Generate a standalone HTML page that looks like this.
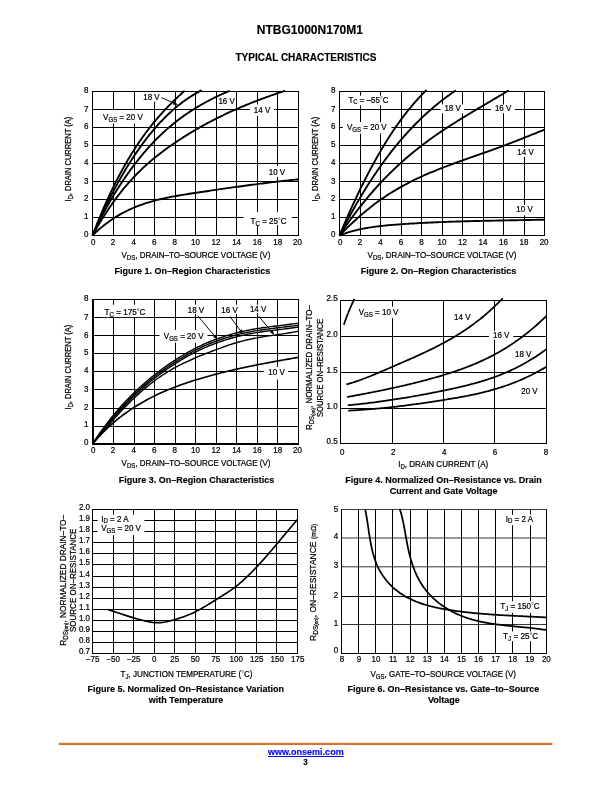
<!DOCTYPE html>
<html lang="en">
<head>
<meta charset="utf-8">
<title>NTBG1000N170M1 - Typical Characteristics</title>
<style>
html,body{margin:0;padding:0;background:#fff;}
body{width:612px;height:792px;overflow:hidden;}
svg{display:block;font-family:'Liberation Sans', sans-serif;}
</style>
</head>
<body>
<svg width="612" height="792" viewBox="0 0 612 792" font-family="'Liberation Sans', sans-serif">
<rect x="0" y="0" width="612" height="792" fill="#fff"/>
<text x="256.87" y="34.00" font-size="12.00" font-weight="bold" stroke="#000" stroke-width="0.15" textLength="106.05" lengthAdjust="spacingAndGlyphs">NTBG1000N170M1</text>
<text x="235.53" y="61.30" font-size="10.00" font-weight="bold" stroke="#000" stroke-width="0.15" textLength="140.94" lengthAdjust="spacingAndGlyphs">TYPICAL CHARACTERISTICS</text>
<rect x="58.8" y="742.8" width="493.6" height="2.2" fill="#d9742c"/>
<text x="267.96" y="754.90" font-size="9.54" font-weight="bold" fill="#0000ff" stroke="#0000ff" stroke-width="0.15" textLength="75.68" lengthAdjust="spacingAndGlyphs">www.onsemi.com</text>
<rect x="268" y="756" width="75.6" height="1" fill="#0000ff"/>
<text x="303.18" y="764.70" font-size="8.48" font-weight="bold" stroke="#000" stroke-width="0.15" textLength="4.45" lengthAdjust="spacingAndGlyphs">3</text>
<path d="M92 91h1v145h-1zM113 91h1v145h-1zM134 91h1v145h-1zM154 91h1v145h-1zM175 91h1v145h-1zM195 91h1v145h-1zM216 91h1v145h-1zM236 91h1v145h-1zM257 91h1v145h-1zM277 91h1v145h-1zM298 91h1v145h-1zM92 235h207v1h-207zM92 217h207v1h-207zM92 199h207v1h-207zM92 181h207v1h-207zM92 163h207v1h-207zM92 145h207v1h-207zM92 127h207v1h-207zM92 109h207v1h-207zM92 91h207v1h-207z" fill="#000"/>
<rect x="101.00" y="110.20" width="43.00" height="13.30" fill="#fff"/>
<rect x="142.00" y="92.20" width="19.00" height="9.50" fill="#fff"/>
<rect x="250.00" y="104.50" width="24.00" height="11.50" fill="#fff"/>
<rect x="267.00" y="166.00" width="20.00" height="11.00" fill="#fff"/>
<rect x="243.50" y="212.20" width="48.30" height="12.70" fill="#fff"/>
<path d="M92.50,235.50 L94.23,233.81 L95.96,232.18 L97.69,230.60 L99.42,229.08 L101.16,227.60 L102.89,226.18 L104.62,224.80 L106.35,223.47 L108.08,222.19 L109.81,220.95 L111.54,219.76 L113.27,218.60 L115.00,217.49 L116.74,216.42 L118.47,215.39 L120.20,214.39 L121.93,213.43 L123.66,212.51 L125.39,211.62 L127.12,210.76 L128.85,209.93 L130.58,209.14 L132.32,208.37 L134.05,207.63 L135.78,206.91 L137.51,206.22 L139.24,205.56 L140.97,204.92 L142.70,204.30 L144.43,203.71 L146.16,203.13 L147.89,202.58 L149.63,202.05 L151.36,201.54 L153.09,201.05 L154.82,200.58 L156.55,200.12 L158.28,199.68 L160.01,199.26 L161.74,198.85 L163.47,198.45 L165.21,198.07 L166.94,197.71 L168.67,197.35 L170.40,197.01 L172.13,196.67 L173.86,196.35 L175.59,196.04 L177.32,195.73 L179.05,195.44 L180.79,195.15 L182.52,194.87 L184.25,194.59 L185.98,194.32 L187.71,194.05 L189.44,193.78 L191.17,193.52 L192.90,193.26 L194.63,193.00 L196.37,192.74 L198.10,192.48 L199.83,192.23 L201.56,191.97 L203.29,191.71 L205.02,191.45 L206.75,191.20 L208.48,190.94 L210.21,190.68 L211.95,190.43 L213.68,190.17 L215.41,189.92 L217.14,189.67 L218.87,189.41 L220.60,189.16 L222.33,188.91 L224.06,188.66 L225.79,188.41 L227.53,188.16 L229.26,187.91 L230.99,187.67 L232.72,187.42 L234.45,187.18 L236.18,186.93 L237.91,186.69 L239.64,186.45 L241.37,186.21 L243.11,185.97 L244.84,185.74 L246.57,185.50 L248.30,185.27 L250.03,185.03 L251.76,184.80 L253.49,184.57 L255.22,184.35 L256.95,184.12 L258.68,183.90 L260.42,183.67 L262.15,183.45 L263.88,183.24 L265.61,183.02 L267.34,182.80 L269.07,182.59 L270.80,182.38 L272.53,182.17 L274.26,181.97 L276.00,181.76 L277.73,181.56 L279.46,181.36 L281.19,181.17 L282.92,180.97 L284.65,180.78 L286.38,180.59 L288.11,180.40 L289.84,180.22 L291.58,180.04 L293.31,179.86 L295.04,179.68 L296.77,179.51 L298.50,179.34" fill="none" stroke="#000" stroke-width="1.9" stroke-linejoin="round" stroke-linecap="butt"/>
<path d="M92.50,235.50 L94.12,232.57 L95.74,229.70 L97.36,226.89 L98.97,224.14 L100.59,221.45 L102.21,218.81 L103.83,216.23 L105.45,213.70 L107.07,211.22 L108.69,208.80 L110.30,206.43 L111.92,204.11 L113.54,201.83 L115.16,199.61 L116.78,197.43 L118.40,195.30 L120.02,193.22 L121.63,191.18 L123.25,189.19 L124.87,187.23 L126.49,185.32 L128.11,183.45 L129.73,181.62 L131.35,179.83 L132.96,178.08 L134.58,176.36 L136.20,174.68 L137.82,173.03 L139.44,171.42 L141.06,169.85 L142.68,168.30 L144.29,166.79 L145.91,165.30 L147.53,163.85 L149.15,162.42 L150.77,161.03 L152.39,159.65 L154.01,158.31 L155.62,156.99 L157.24,155.69 L158.86,154.42 L160.48,153.16 L162.10,151.93 L163.72,150.72 L165.34,149.53 L166.95,148.35 L168.57,147.20 L170.19,146.05 L171.81,144.93 L173.43,143.82 L175.05,142.72 L176.67,141.63 L178.28,140.56 L179.90,139.49 L181.52,138.45 L183.14,137.41 L184.76,136.38 L186.38,135.37 L188.00,134.36 L189.61,133.37 L191.23,132.39 L192.85,131.43 L194.47,130.47 L196.09,129.52 L197.71,128.59 L199.33,127.66 L200.94,126.75 L202.56,125.84 L204.18,124.95 L205.80,124.06 L207.42,123.19 L209.04,122.33 L210.66,121.47 L212.27,120.63 L213.89,119.80 L215.51,118.97 L217.13,118.16 L218.75,117.35 L220.37,116.55 L221.99,115.77 L223.60,114.99 L225.22,114.22 L226.84,113.46 L228.46,112.70 L230.08,111.96 L231.70,111.22 L233.32,110.49 L234.93,109.77 L236.55,109.06 L238.17,108.36 L239.79,107.66 L241.41,106.97 L243.03,106.29 L244.65,105.61 L246.26,104.95 L247.88,104.28 L249.50,103.63 L251.12,102.98 L252.74,102.34 L254.36,101.71 L255.98,101.08 L257.59,100.46 L259.21,99.85 L260.83,99.24 L262.45,98.64 L264.07,98.04 L265.69,97.45 L267.31,96.87 L268.92,96.29 L270.54,95.71 L272.16,95.14 L273.78,94.58 L275.40,94.02 L277.02,93.46 L278.64,92.91 L280.25,92.37 L281.87,91.83 L283.49,91.29 L285.11,90.76" fill="none" stroke="#000" stroke-width="1.9" stroke-linejoin="round" stroke-linecap="butt"/>
<path d="M92.50,235.50 L93.65,232.98 L94.80,230.50 L95.95,228.06 L97.10,225.66 L98.26,223.31 L99.41,220.99 L100.56,218.71 L101.71,216.47 L102.86,214.27 L104.01,212.10 L105.16,209.96 L106.31,207.86 L107.47,205.79 L108.62,203.75 L109.77,201.75 L110.92,199.77 L112.07,197.82 L113.22,195.90 L114.37,194.00 L115.52,192.13 L116.67,190.29 L117.83,188.47 L118.98,186.68 L120.13,184.90 L121.28,183.15 L122.43,181.43 L123.58,179.72 L124.73,178.03 L125.88,176.37 L127.04,174.72 L128.19,173.09 L129.34,171.49 L130.49,169.90 L131.64,168.33 L132.79,166.79 L133.94,165.26 L135.09,163.75 L136.24,162.26 L137.40,160.79 L138.55,159.34 L139.70,157.91 L140.85,156.50 L142.00,155.10 L143.15,153.73 L144.30,152.37 L145.45,151.03 L146.61,149.71 L147.76,148.41 L148.91,147.12 L150.06,145.85 L151.21,144.60 L152.36,143.37 L153.51,142.16 L154.66,140.96 L155.81,139.78 L156.97,138.62 L158.12,137.47 L159.27,136.34 L160.42,135.23 L161.57,134.13 L162.72,133.05 L163.87,131.99 L165.02,130.94 L166.18,129.91 L167.33,128.89 L168.48,127.88 L169.63,126.90 L170.78,125.92 L171.93,124.96 L173.08,124.02 L174.23,123.08 L175.38,122.17 L176.54,121.26 L177.69,120.37 L178.84,119.49 L179.99,118.63 L181.14,117.78 L182.29,116.94 L183.44,116.11 L184.59,115.29 L185.75,114.49 L186.90,113.70 L188.05,112.92 L189.20,112.15 L190.35,111.39 L191.50,110.65 L192.65,109.91 L193.80,109.18 L194.95,108.47 L196.11,107.76 L197.26,107.07 L198.41,106.38 L199.56,105.71 L200.71,105.04 L201.86,104.38 L203.01,103.73 L204.16,103.09 L205.32,102.46 L206.47,101.84 L207.62,101.22 L208.77,100.61 L209.92,100.01 L211.07,99.42 L212.22,98.83 L213.37,98.25 L214.52,97.68 L215.68,97.12 L216.83,96.56 L217.98,96.01 L219.13,95.46 L220.28,94.92 L221.43,94.38 L222.58,93.85 L223.73,93.33 L224.89,92.81 L226.04,92.29 L227.19,91.78 L228.34,91.28 L229.49,90.77" fill="none" stroke="#000" stroke-width="1.9" stroke-linejoin="round" stroke-linecap="butt"/>
<path d="M92.50,235.50 L93.42,233.36 L94.33,231.24 L95.25,229.14 L96.17,227.06 L97.09,225.00 L98.00,222.95 L98.92,220.92 L99.84,218.91 L100.76,216.92 L101.67,214.95 L102.59,212.99 L103.51,211.05 L104.43,209.13 L105.34,207.23 L106.26,205.34 L107.18,203.47 L108.10,201.62 L109.01,199.78 L109.93,197.97 L110.85,196.16 L111.77,194.38 L112.68,192.61 L113.60,190.86 L114.52,189.13 L115.44,187.41 L116.35,185.71 L117.27,184.03 L118.19,182.36 L119.11,180.71 L120.02,179.08 L120.94,177.46 L121.86,175.86 L122.78,174.27 L123.69,172.70 L124.61,171.15 L125.53,169.61 L126.45,168.09 L127.36,166.58 L128.28,165.09 L129.20,163.61 L130.12,162.15 L131.03,160.71 L131.95,159.28 L132.87,157.87 L133.79,156.47 L134.70,155.08 L135.62,153.72 L136.54,152.36 L137.46,151.03 L138.37,149.70 L139.29,148.39 L140.21,147.10 L141.13,145.82 L142.04,144.56 L142.96,143.31 L143.88,142.07 L144.80,140.85 L145.71,139.64 L146.63,138.45 L147.55,137.27 L148.47,136.11 L149.38,134.96 L150.30,133.82 L151.22,132.70 L152.14,131.59 L153.05,130.49 L153.97,129.41 L154.89,128.35 L155.81,127.29 L156.72,126.25 L157.64,125.22 L158.56,124.21 L159.48,123.21 L160.39,122.22 L161.31,121.25 L162.23,120.28 L163.15,119.34 L164.06,118.40 L164.98,117.48 L165.90,116.57 L166.82,115.67 L167.73,114.78 L168.65,113.91 L169.57,113.05 L170.49,112.20 L171.40,111.37 L172.32,110.54 L173.24,109.73 L174.16,108.93 L175.07,108.15 L175.99,107.37 L176.91,106.61 L177.83,105.86 L178.74,105.12 L179.66,104.39 L180.58,103.67 L181.50,102.97 L182.41,102.28 L183.33,101.59 L184.25,100.92 L185.17,100.26 L186.08,99.62 L187.00,98.98 L187.92,98.35 L188.84,97.74 L189.75,97.13 L190.67,96.54 L191.59,95.96 L192.51,95.38 L193.42,94.82 L194.34,94.27 L195.26,93.73 L196.18,93.20 L197.09,92.68 L198.01,92.17 L198.93,91.67 L199.85,91.18 L200.76,90.70 L201.68,90.23" fill="none" stroke="#000" stroke-width="1.9" stroke-linejoin="round" stroke-linecap="butt"/>
<path d="M92.50,235.50 L93.27,233.47 L94.05,231.46 L94.82,229.47 L95.60,227.50 L96.37,225.54 L97.15,223.61 L97.92,221.69 L98.70,219.79 L99.47,217.90 L100.25,216.04 L101.02,214.19 L101.80,212.36 L102.57,210.55 L103.35,208.75 L104.12,206.97 L104.89,205.21 L105.67,203.46 L106.44,201.73 L107.22,200.02 L107.99,198.32 L108.77,196.64 L109.54,194.97 L110.32,193.32 L111.09,191.69 L111.87,190.07 L112.64,188.47 L113.42,186.88 L114.19,185.31 L114.97,183.76 L115.74,182.21 L116.51,180.69 L117.29,179.18 L118.06,177.68 L118.84,176.20 L119.61,174.73 L120.39,173.28 L121.16,171.84 L121.94,170.42 L122.71,169.00 L123.49,167.61 L124.26,166.22 L125.04,164.86 L125.81,163.50 L126.59,162.16 L127.36,160.83 L128.13,159.51 L128.91,158.21 L129.68,156.92 L130.46,155.64 L131.23,154.38 L132.01,153.12 L132.78,151.88 L133.56,150.66 L134.33,149.44 L135.11,148.24 L135.88,147.05 L136.66,145.87 L137.43,144.70 L138.21,143.54 L138.98,142.40 L139.75,141.27 L140.53,140.14 L141.30,139.03 L142.08,137.93 L142.85,136.84 L143.63,135.76 L144.40,134.70 L145.18,133.64 L145.95,132.59 L146.73,131.56 L147.50,130.53 L148.28,129.51 L149.05,128.50 L149.83,127.51 L150.60,126.52 L151.37,125.54 L152.15,124.57 L152.92,123.61 L153.70,122.66 L154.47,121.72 L155.25,120.79 L156.02,119.87 L156.80,118.95 L157.57,118.05 L158.35,117.15 L159.12,116.26 L159.90,115.38 L160.67,114.50 L161.45,113.64 L162.22,112.78 L162.99,111.93 L163.77,111.09 L164.54,110.25 L165.32,109.43 L166.09,108.60 L166.87,107.79 L167.64,106.99 L168.42,106.19 L169.19,105.39 L169.97,104.61 L170.74,103.83 L171.52,103.05 L172.29,102.29 L173.07,101.53 L173.84,100.77 L174.61,100.02 L175.39,99.28 L176.16,98.54 L176.94,97.81 L177.71,97.08 L178.49,96.36 L179.26,95.64 L180.04,94.93 L180.81,94.22 L181.59,93.52 L182.36,92.83 L183.14,92.13 L183.91,91.45 L184.69,90.76" fill="none" stroke="#000" stroke-width="1.9" stroke-linejoin="round" stroke-linecap="butt"/>
<text x="83.95" y="236.90" font-size="8.48" stroke="#000" stroke-width="0.22" textLength="4.45" lengthAdjust="spacingAndGlyphs">0</text>
<text x="83.95" y="218.90" font-size="8.48" stroke="#000" stroke-width="0.22" textLength="4.45" lengthAdjust="spacingAndGlyphs">1</text>
<text x="83.95" y="200.90" font-size="8.48" stroke="#000" stroke-width="0.22" textLength="4.45" lengthAdjust="spacingAndGlyphs">2</text>
<text x="83.95" y="184.00" font-size="8.48" stroke="#000" stroke-width="0.22" textLength="4.45" lengthAdjust="spacingAndGlyphs">3</text>
<text x="83.95" y="164.90" font-size="8.48" stroke="#000" stroke-width="0.22" textLength="4.45" lengthAdjust="spacingAndGlyphs">4</text>
<text x="83.95" y="146.90" font-size="8.48" stroke="#000" stroke-width="0.22" textLength="4.45" lengthAdjust="spacingAndGlyphs">5</text>
<text x="83.95" y="128.90" font-size="8.48" stroke="#000" stroke-width="0.22" textLength="4.45" lengthAdjust="spacingAndGlyphs">6</text>
<text x="83.95" y="111.90" font-size="8.48" stroke="#000" stroke-width="0.22" textLength="4.45" lengthAdjust="spacingAndGlyphs">7</text>
<text x="83.95" y="92.90" font-size="8.48" stroke="#000" stroke-width="0.22" textLength="4.45" lengthAdjust="spacingAndGlyphs">8</text>
<text x="91.03" y="245.00" font-size="8.48" stroke="#000" stroke-width="0.22" textLength="4.45" lengthAdjust="spacingAndGlyphs">0</text>
<text x="110.78" y="245.00" font-size="8.48" stroke="#000" stroke-width="0.22" textLength="4.45" lengthAdjust="spacingAndGlyphs">2</text>
<text x="131.38" y="245.00" font-size="8.48" stroke="#000" stroke-width="0.22" textLength="4.45" lengthAdjust="spacingAndGlyphs">4</text>
<text x="151.98" y="245.00" font-size="8.48" stroke="#000" stroke-width="0.22" textLength="4.45" lengthAdjust="spacingAndGlyphs">6</text>
<text x="172.58" y="245.00" font-size="8.48" stroke="#000" stroke-width="0.22" textLength="4.45" lengthAdjust="spacingAndGlyphs">8</text>
<text x="190.95" y="245.00" font-size="8.48" stroke="#000" stroke-width="0.22" textLength="8.90" lengthAdjust="spacingAndGlyphs">10</text>
<text x="211.55" y="245.00" font-size="8.48" stroke="#000" stroke-width="0.22" textLength="8.90" lengthAdjust="spacingAndGlyphs">12</text>
<text x="232.15" y="245.00" font-size="8.48" stroke="#000" stroke-width="0.22" textLength="8.90" lengthAdjust="spacingAndGlyphs">14</text>
<text x="252.75" y="245.00" font-size="8.48" stroke="#000" stroke-width="0.22" textLength="8.90" lengthAdjust="spacingAndGlyphs">16</text>
<text x="273.35" y="245.00" font-size="8.48" stroke="#000" stroke-width="0.22" textLength="8.90" lengthAdjust="spacingAndGlyphs">18</text>
<text x="293.05" y="245.00" font-size="8.48" stroke="#000" stroke-width="0.22" textLength="8.90" lengthAdjust="spacingAndGlyphs">20</text>
<text x="103.10" y="119.80" font-size="8.48" stroke="#000" stroke-width="0.22" textLength="39.70" lengthAdjust="spacingAndGlyphs">V<tspan font-size="6.44" dy="2.00">GS</tspan><tspan dy="-2.00"> = 20 V</tspan></text>
<text x="143.20" y="99.80" font-size="8.48" stroke="#000" stroke-width="0.22" textLength="16.46" lengthAdjust="spacingAndGlyphs">18 V</text>
<line x1="161.30" y1="97.60" x2="177.40" y2="104.60" stroke="#000" stroke-width="0.95"/>
<polygon points="177.40,104.60 172.70,104.63 174.21,101.14" fill="#000"/>
<text x="218.40" y="103.90" font-size="8.48" stroke="#000" stroke-width="0.22" textLength="16.46" lengthAdjust="spacingAndGlyphs">16 V</text>
<text x="253.80" y="112.90" font-size="8.48" stroke="#000" stroke-width="0.22" textLength="16.46" lengthAdjust="spacingAndGlyphs">14 V</text>
<text x="268.70" y="174.80" font-size="8.48" stroke="#000" stroke-width="0.22" textLength="16.46" lengthAdjust="spacingAndGlyphs">10 V</text>
<text x="250.60" y="223.90" font-size="8.48" stroke="#000" stroke-width="0.22" textLength="35.90" lengthAdjust="spacingAndGlyphs">T<tspan font-size="6.44" dy="2.10">C</tspan><tspan dy="-2.10"> = 25</tspan><tspan font-size="7.21" stroke="none" dy="-0.68">°</tspan><tspan dy="0.68">C</tspan></text>
<text x="121.40" y="257.70" font-size="8.48" stroke="#000" stroke-width="0.22" textLength="148.92" lengthAdjust="spacingAndGlyphs">V<tspan font-size="6.44" dy="2.00">DS</tspan><tspan dy="-2.00">, DRAIN–TO–SOURCE VOLTAGE (V)</tspan></text>
<text x="114.60" y="273.60" font-size="9.54" font-weight="bold" stroke="#000" stroke-width="0.15" textLength="155.55" lengthAdjust="spacingAndGlyphs">Figure 1. On–Region Characteristics</text>
<text transform="translate(70.80,159.10) rotate(-90)" x="-42.35" y="0" font-size="8.48" stroke="#000" stroke-width="0.22" textLength="84.70" lengthAdjust="spacingAndGlyphs">I<tspan font-size="6.44" dy="2.00">D</tspan><tspan dy="-2.00">, DRAIN CURRENT (A)</tspan></text>
<path d="M339 91h1v145h-1zM360 91h1v145h-1zM380 91h1v145h-1zM401 91h1v145h-1zM421 91h1v145h-1zM442 91h1v145h-1zM462 91h1v145h-1zM483 91h1v145h-1zM503 91h1v145h-1zM524 91h1v145h-1zM544 91h1v145h-1zM339 235h206v1h-206zM339 217h206v1h-206zM339 199h206v1h-206zM339 181h206v1h-206zM339 163h206v1h-206zM339 145h206v1h-206zM339 127h206v1h-206zM339 109h206v1h-206zM339 91h206v1h-206z" fill="#000"/>
<rect x="346.50" y="95.70" width="44.00" height="9.70" fill="#fff"/>
<rect x="342.80" y="122.00" width="48.60" height="11.60" fill="#fff"/>
<rect x="440.50" y="104.50" width="23.70" height="8.70" fill="#fff"/>
<rect x="491.00" y="104.50" width="23.80" height="8.70" fill="#fff"/>
<rect x="516.00" y="147.80" width="19.00" height="9.20" fill="#fff"/>
<rect x="515.00" y="205.00" width="20.00" height="10.30" fill="#fff"/>
<path d="M339.50,235.50 L341.22,234.82 L342.95,234.18 L344.67,233.56 L346.39,232.98 L348.11,232.42 L349.84,231.90 L351.56,231.40 L353.28,230.93 L355.00,230.48 L356.73,230.05 L358.45,229.65 L360.17,229.27 L361.89,228.91 L363.62,228.57 L365.34,228.24 L367.06,227.94 L368.79,227.65 L370.51,227.38 L372.23,227.12 L373.95,226.87 L375.68,226.64 L377.40,226.41 L379.12,226.20 L380.84,226.01 L382.57,225.82 L384.29,225.64 L386.01,225.47 L387.74,225.30 L389.46,225.15 L391.18,225.00 L392.90,224.86 L394.63,224.72 L396.35,224.59 L398.07,224.46 L399.79,224.34 L401.52,224.22 L403.24,224.10 L404.96,223.98 L406.68,223.87 L408.41,223.76 L410.13,223.65 L411.85,223.54 L413.58,223.44 L415.30,223.34 L417.02,223.24 L418.74,223.14 L420.47,223.05 L422.19,222.95 L423.91,222.86 L425.63,222.78 L427.36,222.69 L429.08,222.61 L430.80,222.53 L432.53,222.45 L434.25,222.37 L435.97,222.29 L437.69,222.22 L439.42,222.15 L441.14,222.08 L442.86,222.01 L444.58,221.95 L446.31,221.88 L448.03,221.82 L449.75,221.76 L451.47,221.70 L453.20,221.64 L454.92,221.59 L456.64,221.53 L458.37,221.48 L460.09,221.43 L461.81,221.38 L463.53,221.33 L465.26,221.28 L466.98,221.23 L468.70,221.19 L470.42,221.14 L472.15,221.10 L473.87,221.05 L475.59,221.01 L477.32,220.97 L479.04,220.93 L480.76,220.89 L482.48,220.86 L484.21,220.82 L485.93,220.78 L487.65,220.75 L489.37,220.71 L491.10,220.68 L492.82,220.64 L494.54,220.61 L496.26,220.58 L497.99,220.54 L499.71,220.51 L501.43,220.48 L503.16,220.45 L504.88,220.42 L506.60,220.38 L508.32,220.35 L510.05,220.32 L511.77,220.29 L513.49,220.26 L515.21,220.23 L516.94,220.20 L518.66,220.17 L520.38,220.14 L522.11,220.10 L523.83,220.07 L525.55,220.04 L527.27,220.01 L529.00,219.98 L530.72,219.94 L532.44,219.91 L534.16,219.88 L535.89,219.84 L537.61,219.81 L539.33,219.77 L541.05,219.73 L542.78,219.70 L544.50,219.66" fill="none" stroke="#000" stroke-width="1.9" stroke-linejoin="round" stroke-linecap="butt"/>
<path d="M339.50,235.50 L341.22,233.73 L342.95,231.99 L344.67,230.27 L346.39,228.57 L348.11,226.90 L349.84,225.24 L351.56,223.62 L353.28,222.01 L355.00,220.43 L356.73,218.88 L358.45,217.34 L360.17,215.83 L361.89,214.35 L363.62,212.88 L365.34,211.44 L367.06,210.03 L368.79,208.64 L370.51,207.27 L372.23,205.93 L373.95,204.61 L375.68,203.31 L377.40,202.04 L379.12,200.79 L380.84,199.57 L382.57,198.37 L384.29,197.19 L386.01,196.04 L387.74,194.91 L389.46,193.80 L391.18,192.71 L392.90,191.64 L394.63,190.59 L396.35,189.57 L398.07,188.56 L399.79,187.57 L401.52,186.60 L403.24,185.65 L404.96,184.72 L406.68,183.80 L408.41,182.90 L410.13,182.02 L411.85,181.15 L413.58,180.30 L415.30,179.46 L417.02,178.64 L418.74,177.83 L420.47,177.03 L422.19,176.24 L423.91,175.47 L425.63,174.71 L427.36,173.96 L429.08,173.22 L430.80,172.49 L432.53,171.78 L434.25,171.07 L435.97,170.37 L437.69,169.67 L439.42,168.99 L441.14,168.31 L442.86,167.64 L444.58,166.98 L446.31,166.32 L448.03,165.67 L449.75,165.02 L451.47,164.38 L453.20,163.75 L454.92,163.11 L456.64,162.49 L458.37,161.86 L460.09,161.24 L461.81,160.63 L463.53,160.01 L465.26,159.40 L466.98,158.79 L468.70,158.18 L470.42,157.58 L472.15,156.97 L473.87,156.37 L475.59,155.76 L477.32,155.16 L479.04,154.56 L480.76,153.95 L482.48,153.35 L484.21,152.74 L485.93,152.14 L487.65,151.53 L489.37,150.92 L491.10,150.30 L492.82,149.69 L494.54,149.07 L496.26,148.45 L497.99,147.82 L499.71,147.19 L501.43,146.55 L503.16,145.91 L504.88,145.27 L506.60,144.62 L508.32,143.97 L510.05,143.31 L511.77,142.65 L513.49,141.98 L515.21,141.31 L516.94,140.64 L518.66,139.96 L520.38,139.29 L522.11,138.61 L523.83,137.92 L525.55,137.24 L527.27,136.55 L529.00,135.86 L530.72,135.17 L532.44,134.48 L534.16,133.79 L535.89,133.10 L537.61,132.41 L539.33,131.72 L541.05,131.03 L542.78,130.34 L544.50,129.65" fill="none" stroke="#000" stroke-width="1.9" stroke-linejoin="round" stroke-linecap="butt"/>
<path d="M339.50,235.50 L340.92,233.35 L342.34,231.23 L343.76,229.13 L345.18,227.06 L346.61,225.01 L348.03,222.99 L349.45,220.99 L350.87,219.02 L352.29,217.07 L353.71,215.14 L355.13,213.24 L356.55,211.36 L357.98,209.50 L359.40,207.66 L360.82,205.85 L362.24,204.06 L363.66,202.29 L365.08,200.54 L366.50,198.82 L367.92,197.11 L369.35,195.43 L370.77,193.76 L372.19,192.12 L373.61,190.50 L375.03,188.89 L376.45,187.31 L377.87,185.74 L379.29,184.20 L380.72,182.67 L382.14,181.16 L383.56,179.67 L384.98,178.20 L386.40,176.74 L387.82,175.30 L389.24,173.88 L390.66,172.48 L392.09,171.09 L393.51,169.72 L394.93,168.37 L396.35,167.03 L397.77,165.71 L399.19,164.40 L400.61,163.11 L402.03,161.84 L403.45,160.57 L404.88,159.33 L406.30,158.09 L407.72,156.87 L409.14,155.67 L410.56,154.48 L411.98,153.30 L413.40,152.13 L414.82,150.98 L416.25,149.84 L417.67,148.71 L419.09,147.60 L420.51,146.49 L421.93,145.40 L423.35,144.32 L424.77,143.24 L426.19,142.18 L427.62,141.13 L429.04,140.09 L430.46,139.06 L431.88,138.04 L433.30,137.03 L434.72,136.03 L436.14,135.04 L437.56,134.06 L438.99,133.08 L440.41,132.11 L441.83,131.15 L443.25,130.20 L444.67,129.26 L446.09,128.32 L447.51,127.39 L448.93,126.47 L450.36,125.55 L451.78,124.64 L453.20,123.74 L454.62,122.84 L456.04,121.94 L457.46,121.05 L458.88,120.17 L460.30,119.29 L461.72,118.42 L463.15,117.55 L464.57,116.68 L465.99,115.82 L467.41,114.96 L468.83,114.10 L470.25,113.25 L471.67,112.40 L473.09,111.55 L474.52,110.70 L475.94,109.86 L477.36,109.02 L478.78,108.17 L480.20,107.33 L481.62,106.49 L483.04,105.66 L484.46,104.82 L485.89,103.98 L487.31,103.14 L488.73,102.30 L490.15,101.46 L491.57,100.62 L492.99,99.78 L494.41,98.94 L495.83,98.09 L497.26,97.25 L498.68,96.40 L500.10,95.55 L501.52,94.70 L502.94,93.84 L504.36,92.98 L505.78,92.12 L507.20,91.25 L508.62,90.38" fill="none" stroke="#000" stroke-width="1.9" stroke-linejoin="round" stroke-linecap="butt"/>
<path d="M339.50,235.50 L340.48,233.56 L341.46,231.64 L342.43,229.73 L343.41,227.84 L344.39,225.96 L345.37,224.09 L346.34,222.24 L347.32,220.41 L348.30,218.59 L349.28,216.78 L350.25,214.99 L351.23,213.21 L352.21,211.45 L353.19,209.70 L354.16,207.96 L355.14,206.24 L356.12,204.53 L357.10,202.84 L358.07,201.16 L359.05,199.49 L360.03,197.84 L361.01,196.20 L361.99,194.57 L362.96,192.96 L363.94,191.36 L364.92,189.77 L365.90,188.20 L366.87,186.64 L367.85,185.09 L368.83,183.56 L369.81,182.04 L370.78,180.53 L371.76,179.03 L372.74,177.55 L373.72,176.08 L374.69,174.62 L375.67,173.17 L376.65,171.74 L377.63,170.32 L378.61,168.91 L379.58,167.51 L380.56,166.13 L381.54,164.76 L382.52,163.40 L383.49,162.05 L384.47,160.71 L385.45,159.39 L386.43,158.07 L387.40,156.77 L388.38,155.48 L389.36,154.20 L390.34,152.94 L391.31,151.68 L392.29,150.43 L393.27,149.20 L394.25,147.98 L395.22,146.77 L396.20,145.57 L397.18,144.38 L398.16,143.20 L399.14,142.03 L400.11,140.88 L401.09,139.73 L402.07,138.59 L403.05,137.47 L404.02,136.35 L405.00,135.25 L405.98,134.16 L406.96,133.07 L407.93,132.00 L408.91,130.93 L409.89,129.88 L410.87,128.84 L411.84,127.80 L412.82,126.78 L413.80,125.76 L414.78,124.76 L415.75,123.77 L416.73,122.78 L417.71,121.80 L418.69,120.84 L419.67,119.88 L420.64,118.93 L421.62,117.99 L422.60,117.06 L423.58,116.14 L424.55,115.23 L425.53,114.33 L426.51,113.44 L427.49,112.55 L428.46,111.67 L429.44,110.81 L430.42,109.95 L431.40,109.10 L432.37,108.25 L433.35,107.42 L434.33,106.59 L435.31,105.78 L436.28,104.97 L437.26,104.17 L438.24,103.37 L439.22,102.59 L440.20,101.81 L441.17,101.04 L442.15,100.28 L443.13,99.52 L444.11,98.78 L445.08,98.04 L446.06,97.31 L447.04,96.58 L448.02,95.86 L448.99,95.16 L449.97,94.45 L450.95,93.76 L451.93,93.07 L452.90,92.39 L453.88,91.71 L454.86,91.04 L455.84,90.38" fill="none" stroke="#000" stroke-width="1.9" stroke-linejoin="round" stroke-linecap="butt"/>
<path d="M339.50,235.50 L340.23,233.74 L340.96,231.98 L341.70,230.24 L342.43,228.51 L343.16,226.78 L343.89,225.07 L344.62,223.36 L345.36,221.67 L346.09,219.98 L346.82,218.30 L347.55,216.63 L348.29,214.98 L349.02,213.33 L349.75,211.69 L350.48,210.06 L351.21,208.43 L351.95,206.82 L352.68,205.22 L353.41,203.62 L354.14,202.04 L354.88,200.47 L355.61,198.90 L356.34,197.34 L357.07,195.80 L357.80,194.26 L358.54,192.73 L359.27,191.21 L360.00,189.70 L360.73,188.20 L361.46,186.70 L362.20,185.22 L362.93,183.75 L363.66,182.28 L364.39,180.83 L365.12,179.38 L365.86,177.95 L366.59,176.52 L367.32,175.10 L368.05,173.69 L368.79,172.29 L369.52,170.90 L370.25,169.52 L370.98,168.14 L371.71,166.78 L372.45,165.43 L373.18,164.08 L373.91,162.74 L374.64,161.42 L375.38,160.10 L376.11,158.79 L376.84,157.49 L377.57,156.20 L378.30,154.92 L379.04,153.64 L379.77,152.38 L380.50,151.13 L381.23,149.88 L381.96,148.64 L382.70,147.42 L383.43,146.20 L384.16,144.99 L384.89,143.79 L385.62,142.60 L386.36,141.41 L387.09,140.24 L387.82,139.07 L388.55,137.92 L389.29,136.77 L390.02,135.64 L390.75,134.51 L391.48,133.39 L392.21,132.28 L392.95,131.17 L393.68,130.08 L394.41,129.00 L395.14,127.92 L395.88,126.86 L396.61,125.80 L397.34,124.75 L398.07,123.71 L398.80,122.68 L399.54,121.66 L400.27,120.65 L401.00,119.64 L401.73,118.65 L402.46,117.66 L403.20,116.68 L403.93,115.72 L404.66,114.76 L405.39,113.81 L406.12,112.86 L406.86,111.93 L407.59,111.01 L408.32,110.09 L409.05,109.18 L409.79,108.29 L410.52,107.40 L411.25,106.52 L411.98,105.65 L412.71,104.78 L413.45,103.93 L414.18,103.08 L414.91,102.25 L415.64,101.42 L416.38,100.60 L417.11,99.79 L417.84,98.99 L418.57,98.20 L419.30,97.41 L420.04,96.64 L420.77,95.87 L421.50,95.11 L422.23,94.36 L422.96,93.62 L423.70,92.89 L424.43,92.17 L425.16,91.45 L425.89,90.75 L426.62,90.05" fill="none" stroke="#000" stroke-width="1.9" stroke-linejoin="round" stroke-linecap="butt"/>
<text x="330.95" y="236.90" font-size="8.48" stroke="#000" stroke-width="0.22" textLength="4.45" lengthAdjust="spacingAndGlyphs">0</text>
<text x="330.95" y="218.90" font-size="8.48" stroke="#000" stroke-width="0.22" textLength="4.45" lengthAdjust="spacingAndGlyphs">1</text>
<text x="330.95" y="200.90" font-size="8.48" stroke="#000" stroke-width="0.22" textLength="4.45" lengthAdjust="spacingAndGlyphs">2</text>
<text x="330.95" y="184.00" font-size="8.48" stroke="#000" stroke-width="0.22" textLength="4.45" lengthAdjust="spacingAndGlyphs">3</text>
<text x="330.95" y="164.90" font-size="8.48" stroke="#000" stroke-width="0.22" textLength="4.45" lengthAdjust="spacingAndGlyphs">4</text>
<text x="330.95" y="146.90" font-size="8.48" stroke="#000" stroke-width="0.22" textLength="4.45" lengthAdjust="spacingAndGlyphs">5</text>
<text x="330.95" y="128.90" font-size="8.48" stroke="#000" stroke-width="0.22" textLength="4.45" lengthAdjust="spacingAndGlyphs">6</text>
<text x="330.95" y="112.00" font-size="8.48" stroke="#000" stroke-width="0.22" textLength="4.45" lengthAdjust="spacingAndGlyphs">7</text>
<text x="330.95" y="92.90" font-size="8.48" stroke="#000" stroke-width="0.22" textLength="4.45" lengthAdjust="spacingAndGlyphs">8</text>
<text x="337.88" y="245.00" font-size="8.48" stroke="#000" stroke-width="0.22" textLength="4.45" lengthAdjust="spacingAndGlyphs">0</text>
<text x="357.68" y="245.00" font-size="8.48" stroke="#000" stroke-width="0.22" textLength="4.45" lengthAdjust="spacingAndGlyphs">2</text>
<text x="378.18" y="245.00" font-size="8.48" stroke="#000" stroke-width="0.22" textLength="4.45" lengthAdjust="spacingAndGlyphs">4</text>
<text x="398.68" y="245.00" font-size="8.48" stroke="#000" stroke-width="0.22" textLength="4.45" lengthAdjust="spacingAndGlyphs">6</text>
<text x="419.18" y="245.00" font-size="8.48" stroke="#000" stroke-width="0.22" textLength="4.45" lengthAdjust="spacingAndGlyphs">8</text>
<text x="437.45" y="245.00" font-size="8.48" stroke="#000" stroke-width="0.22" textLength="8.90" lengthAdjust="spacingAndGlyphs">10</text>
<text x="457.95" y="245.00" font-size="8.48" stroke="#000" stroke-width="0.22" textLength="8.90" lengthAdjust="spacingAndGlyphs">12</text>
<text x="478.45" y="245.00" font-size="8.48" stroke="#000" stroke-width="0.22" textLength="8.90" lengthAdjust="spacingAndGlyphs">14</text>
<text x="498.95" y="245.00" font-size="8.48" stroke="#000" stroke-width="0.22" textLength="8.90" lengthAdjust="spacingAndGlyphs">16</text>
<text x="519.45" y="245.00" font-size="8.48" stroke="#000" stroke-width="0.22" textLength="8.90" lengthAdjust="spacingAndGlyphs">18</text>
<text x="539.65" y="245.00" font-size="8.48" stroke="#000" stroke-width="0.22" textLength="8.90" lengthAdjust="spacingAndGlyphs">20</text>
<text x="348.40" y="103.10" font-size="8.48" stroke="#000" stroke-width="0.22" textLength="40.00" lengthAdjust="spacingAndGlyphs">T<tspan font-size="6.44" dy="1.30">C</tspan><tspan dy="-1.30"> = –55</tspan><tspan font-size="7.21" stroke="none" dy="-0.68">°</tspan><tspan dy="0.68">C</tspan></text>
<text x="347.00" y="129.70" font-size="8.48" stroke="#000" stroke-width="0.22" textLength="39.70" lengthAdjust="spacingAndGlyphs">V<tspan font-size="6.44" dy="2.00">GS</tspan><tspan dy="-2.00"> = 20 V</tspan></text>
<text x="444.40" y="111.30" font-size="8.48" stroke="#000" stroke-width="0.22" textLength="16.46" lengthAdjust="spacingAndGlyphs">18 V</text>
<text x="494.90" y="111.30" font-size="8.48" stroke="#000" stroke-width="0.22" textLength="16.46" lengthAdjust="spacingAndGlyphs">16 V</text>
<text x="517.30" y="155.00" font-size="8.48" stroke="#000" stroke-width="0.22" textLength="16.46" lengthAdjust="spacingAndGlyphs">14 V</text>
<text x="516.30" y="212.40" font-size="8.48" stroke="#000" stroke-width="0.22" textLength="16.46" lengthAdjust="spacingAndGlyphs">10 V</text>
<text x="367.60" y="257.70" font-size="8.48" stroke="#000" stroke-width="0.22" textLength="148.92" lengthAdjust="spacingAndGlyphs">V<tspan font-size="6.44" dy="2.00">DS</tspan><tspan dy="-2.00">, DRAIN–TO–SOURCE VOLTAGE (V)</tspan></text>
<text x="360.80" y="273.60" font-size="9.54" font-weight="bold" stroke="#000" stroke-width="0.15" textLength="155.55" lengthAdjust="spacingAndGlyphs">Figure 2. On–Region Characteristics</text>
<text transform="translate(317.80,159.10) rotate(-90)" x="-42.35" y="0" font-size="8.48" stroke="#000" stroke-width="0.22" textLength="84.70" lengthAdjust="spacingAndGlyphs">I<tspan font-size="6.44" dy="2.00">D</tspan><tspan dy="-2.00">, DRAIN CURRENT (A)</tspan></text>
<path d="M92 299h1v145h-1zM113 299h1v145h-1zM134 299h1v145h-1zM154 299h1v145h-1zM175 299h1v145h-1zM195 299h1v145h-1zM216 299h1v145h-1zM236 299h1v145h-1zM257 299h1v145h-1zM277 299h1v145h-1zM298 299h1v145h-1zM92 443h207v1h-207zM92 426h207v1h-207zM92 408h207v1h-207zM92 389h207v1h-207zM92 371h207v1h-207zM92 353h207v1h-207zM92 335h207v1h-207zM92 317h207v1h-207zM92 299h207v1h-207z" fill="#000"/>
<rect x="92" y="299" width="2" height="146" fill="#000"/>
<rect x="92" y="443" width="207" height="2" fill="#000"/>
<rect x="102.00" y="304.70" width="46.00" height="12.40" fill="#fff"/>
<rect x="159.50" y="330.00" width="48.00" height="12.60" fill="#fff"/>
<rect x="187.00" y="304.70" width="18.50" height="9.00" fill="#fff"/>
<rect x="220.50" y="304.70" width="18.50" height="9.00" fill="#fff"/>
<rect x="249.50" y="304.70" width="18.00" height="8.50" fill="#fff"/>
<rect x="263.90" y="366.90" width="24.30" height="12.60" fill="#fff"/>
<path d="M92.50,444.00 L94.23,441.96 L95.96,439.97 L97.69,438.03 L99.42,436.15 L101.16,434.32 L102.89,432.54 L104.62,430.80 L106.35,429.11 L108.08,427.47 L109.81,425.88 L111.54,424.32 L113.27,422.81 L115.00,421.34 L116.74,419.90 L118.47,418.51 L120.20,417.15 L121.93,415.82 L123.66,414.53 L125.39,413.27 L127.12,412.05 L128.85,410.85 L130.58,409.68 L132.32,408.53 L134.05,407.41 L135.78,406.32 L137.51,405.25 L139.24,404.21 L140.97,403.18 L142.70,402.18 L144.43,401.20 L146.16,400.24 L147.89,399.31 L149.63,398.39 L151.36,397.50 L153.09,396.62 L154.82,395.77 L156.55,394.93 L158.28,394.11 L160.01,393.31 L161.74,392.52 L163.47,391.75 L165.21,391.00 L166.94,390.27 L168.67,389.55 L170.40,388.84 L172.13,388.15 L173.86,387.48 L175.59,386.81 L177.32,386.16 L179.05,385.53 L180.79,384.90 L182.52,384.29 L184.25,383.69 L185.98,383.10 L187.71,382.52 L189.44,381.95 L191.17,381.38 L192.90,380.83 L194.63,380.29 L196.37,379.75 L198.10,379.22 L199.83,378.70 L201.56,378.19 L203.29,377.68 L205.02,377.18 L206.75,376.69 L208.48,376.21 L210.21,375.73 L211.95,375.26 L213.68,374.79 L215.41,374.33 L217.14,373.88 L218.87,373.43 L220.60,372.99 L222.33,372.56 L224.06,372.13 L225.79,371.71 L227.53,371.29 L229.26,370.88 L230.99,370.47 L232.72,370.07 L234.45,369.67 L236.18,369.28 L237.91,368.89 L239.64,368.51 L241.37,368.13 L243.11,367.76 L244.84,367.39 L246.57,367.02 L248.30,366.66 L250.03,366.30 L251.76,365.95 L253.49,365.60 L255.22,365.25 L256.95,364.90 L258.68,364.56 L260.42,364.23 L262.15,363.89 L263.88,363.56 L265.61,363.23 L267.34,362.90 L269.07,362.58 L270.80,362.26 L272.53,361.93 L274.26,361.62 L276.00,361.30 L277.73,360.99 L279.46,360.67 L281.19,360.36 L282.92,360.05 L284.65,359.74 L286.38,359.43 L288.11,359.13 L289.84,358.82 L291.58,358.52 L293.31,358.21 L295.04,357.91 L296.77,357.60 L298.50,357.30" fill="none" stroke="#000" stroke-width="1.65" stroke-linejoin="round" stroke-linecap="butt"/>
<path d="M92.50,444.00 L94.23,441.91 L95.96,439.85 L97.69,437.80 L99.42,435.77 L101.16,433.74 L102.89,431.70 L104.62,429.69 L106.35,427.71 L108.08,425.75 L109.81,423.80 L111.54,421.84 L113.27,419.86 L115.00,417.89 L116.74,415.95 L118.47,414.03 L120.20,412.15 L121.93,410.29 L123.66,408.47 L125.39,406.67 L127.12,404.91 L128.85,403.17 L130.58,401.47 L132.32,399.80 L134.05,398.16 L135.78,396.55 L137.51,394.96 L139.24,393.39 L140.97,391.85 L142.70,390.33 L144.43,388.85 L146.16,387.39 L147.89,385.96 L149.63,384.55 L151.36,383.18 L153.09,381.84 L154.82,380.53 L156.55,379.26 L158.28,378.03 L160.01,376.82 L161.74,375.66 L163.47,374.52 L165.21,373.41 L166.94,372.32 L168.67,371.26 L170.40,370.23 L172.13,369.22 L173.86,368.22 L175.59,367.25 L177.32,366.31 L179.05,365.41 L180.79,364.54 L182.52,363.70 L184.25,362.88 L185.98,362.08 L187.71,361.29 L189.44,360.52 L191.17,359.75 L192.90,358.99 L194.63,358.22 L196.37,357.45 L198.10,356.69 L199.83,355.96 L201.56,355.25 L203.29,354.55 L205.02,353.87 L206.75,353.20 L208.48,352.54 L210.21,351.89 L211.95,351.25 L213.68,350.61 L215.41,349.96 L217.14,349.32 L218.87,348.68 L220.60,348.04 L222.33,347.40 L224.06,346.77 L225.79,346.14 L227.53,345.53 L229.26,344.93 L230.99,344.35 L232.72,343.79 L234.45,343.25 L236.18,342.74 L237.91,342.25 L239.64,341.77 L241.37,341.31 L243.11,340.87 L244.84,340.44 L246.57,340.03 L248.30,339.63 L250.03,339.24 L251.76,338.87 L253.49,338.51 L255.22,338.17 L256.95,337.84 L258.68,337.53 L260.42,337.23 L262.15,336.94 L263.88,336.66 L265.61,336.39 L267.34,336.13 L269.07,335.87 L270.80,335.62 L272.53,335.38 L274.26,335.13 L276.00,334.88 L277.73,334.64 L279.46,334.38 L281.19,334.13 L282.92,333.87 L284.65,333.60 L286.38,333.33 L288.11,333.05 L289.84,332.77 L291.58,332.47 L293.31,332.17 L295.04,331.86 L296.77,331.54 L298.50,331.21" fill="none" stroke="#000" stroke-width="1.4" stroke-linejoin="round" stroke-linecap="butt"/>
<path d="M92.50,444.00 L94.23,441.69 L95.96,439.42 L97.69,437.18 L99.42,434.97 L101.16,432.78 L102.89,430.61 L104.62,428.48 L106.35,426.40 L108.08,424.34 L109.81,422.30 L111.54,420.27 L113.27,418.23 L115.00,416.20 L116.74,414.21 L118.47,412.25 L120.20,410.33 L121.93,408.44 L123.66,406.58 L125.39,404.75 L127.12,402.95 L128.85,401.19 L130.58,399.45 L132.32,397.75 L134.05,396.08 L135.78,394.43 L137.51,392.81 L139.24,391.22 L140.97,389.66 L142.70,388.12 L144.43,386.61 L146.16,385.12 L147.89,383.66 L149.63,382.23 L151.36,380.82 L153.09,379.44 L154.82,378.08 L156.55,376.75 L158.28,375.44 L160.01,374.15 L161.74,372.89 L163.47,371.64 L165.21,370.42 L166.94,369.22 L168.67,368.04 L170.40,366.87 L172.13,365.73 L173.86,364.60 L175.59,363.49 L177.32,362.39 L179.05,361.31 L180.79,360.26 L182.52,359.21 L184.25,358.19 L185.98,357.19 L187.71,356.21 L189.44,355.24 L191.17,354.30 L192.90,353.39 L194.63,352.49 L196.37,351.62 L198.10,350.77 L199.83,349.95 L201.56,349.15 L203.29,348.37 L205.02,347.62 L206.75,346.88 L208.48,346.16 L210.21,345.47 L211.95,344.78 L213.68,344.12 L215.41,343.46 L217.14,342.82 L218.87,342.20 L220.60,341.59 L222.33,341.00 L224.06,340.42 L225.79,339.86 L227.53,339.31 L229.26,338.78 L230.99,338.27 L232.72,337.78 L234.45,337.31 L236.18,336.85 L237.91,336.41 L239.64,335.99 L241.37,335.59 L243.11,335.21 L244.84,334.84 L246.57,334.48 L248.30,334.14 L250.03,333.81 L251.76,333.49 L253.49,333.18 L255.22,332.89 L256.95,332.60 L258.68,332.32 L260.42,332.05 L262.15,331.79 L263.88,331.54 L265.61,331.30 L267.34,331.06 L269.07,330.83 L270.80,330.61 L272.53,330.39 L274.26,330.18 L276.00,329.96 L277.73,329.75 L279.46,329.55 L281.19,329.34 L282.92,329.13 L284.65,328.91 L286.38,328.70 L288.11,328.48 L289.84,328.26 L291.58,328.03 L293.31,327.80 L295.04,327.56 L296.77,327.31 L298.50,327.05" fill="none" stroke="#000" stroke-width="1.4" stroke-linejoin="round" stroke-linecap="butt"/>
<path d="M92.50,444.00 L94.23,441.51 L95.96,439.07 L97.69,436.67 L99.42,434.31 L101.16,431.99 L102.89,429.70 L104.62,427.46 L106.35,425.26 L108.08,423.10 L109.81,420.97 L111.54,418.86 L113.27,416.78 L115.00,414.73 L116.74,412.71 L118.47,410.73 L120.20,408.79 L121.93,406.88 L123.66,405.01 L125.39,403.17 L127.12,401.37 L128.85,399.59 L130.58,397.85 L132.32,396.13 L134.05,394.45 L135.78,392.79 L137.51,391.17 L139.24,389.57 L140.97,387.99 L142.70,386.45 L144.43,384.93 L146.16,383.44 L147.89,381.97 L149.63,380.53 L151.36,379.12 L153.09,377.73 L154.82,376.36 L156.55,375.02 L158.28,373.70 L160.01,372.41 L161.74,371.14 L163.47,369.89 L165.21,368.66 L166.94,367.45 L168.67,366.26 L170.40,365.09 L172.13,363.94 L173.86,362.80 L175.59,361.68 L177.32,360.57 L179.05,359.49 L180.79,358.42 L182.52,357.37 L184.25,356.34 L185.98,355.33 L187.71,354.35 L189.44,353.38 L191.17,352.43 L192.90,351.50 L194.63,350.60 L196.37,349.72 L198.10,348.86 L199.83,348.03 L201.56,347.22 L203.29,346.43 L205.02,345.66 L206.75,344.92 L208.48,344.20 L210.21,343.49 L211.95,342.80 L213.68,342.13 L215.41,341.48 L217.14,340.84 L218.87,340.22 L220.60,339.61 L222.33,339.03 L224.06,338.46 L225.79,337.91 L227.53,337.38 L229.26,336.86 L230.99,336.36 L232.72,335.88 L234.45,335.41 L236.18,334.95 L237.91,334.52 L239.64,334.09 L241.37,333.68 L243.11,333.29 L244.84,332.91 L246.57,332.54 L248.30,332.19 L250.03,331.85 L251.76,331.52 L253.49,331.20 L255.22,330.90 L256.95,330.61 L258.68,330.33 L260.42,330.06 L262.15,329.80 L263.88,329.55 L265.61,329.31 L267.34,329.07 L269.07,328.85 L270.80,328.62 L272.53,328.40 L274.26,328.19 L276.00,327.98 L277.73,327.77 L279.46,327.56 L281.19,327.35 L282.92,327.15 L284.65,326.94 L286.38,326.73 L288.11,326.52 L289.84,326.31 L291.58,326.09 L293.31,325.87 L295.04,325.64 L296.77,325.40 L298.50,325.16" fill="none" stroke="#000" stroke-width="1.4" stroke-linejoin="round" stroke-linecap="butt"/>
<path d="M92.50,444.00 L94.23,441.34 L95.96,438.72 L97.69,436.17 L99.42,433.66 L101.16,431.20 L102.89,428.80 L104.62,426.44 L106.35,424.13 L108.08,421.86 L109.81,419.64 L111.54,417.47 L113.27,415.33 L115.00,413.24 L116.74,411.19 L118.47,409.18 L120.20,407.21 L121.93,405.28 L123.66,403.39 L125.39,401.53 L127.12,399.70 L128.85,397.91 L130.58,396.15 L132.32,394.43 L134.05,392.73 L135.78,391.06 L137.51,389.43 L139.24,387.82 L140.97,386.24 L142.70,384.69 L144.43,383.16 L146.16,381.66 L147.89,380.19 L149.63,378.74 L151.36,377.32 L153.09,375.93 L154.82,374.55 L156.55,373.20 L158.28,371.88 L160.01,370.57 L161.74,369.29 L163.47,368.03 L165.21,366.80 L166.94,365.58 L168.67,364.38 L170.40,363.20 L172.13,362.04 L173.86,360.90 L175.59,359.78 L177.32,358.68 L179.05,357.59 L180.79,356.52 L182.52,355.48 L184.25,354.45 L185.98,353.44 L187.71,352.45 L189.44,351.48 L191.17,350.53 L192.90,349.61 L194.63,348.70 L196.37,347.82 L198.10,346.96 L199.83,346.12 L201.56,345.30 L203.29,344.50 L205.02,343.73 L206.75,342.97 L208.48,342.24 L210.21,341.52 L211.95,340.82 L213.68,340.15 L215.41,339.49 L217.14,338.85 L218.87,338.23 L220.60,337.63 L222.33,337.04 L224.06,336.47 L225.79,335.92 L227.53,335.39 L229.26,334.87 L230.99,334.37 L232.72,333.89 L234.45,333.42 L236.18,332.97 L237.91,332.53 L239.64,332.11 L241.37,331.70 L243.11,331.30 L244.84,330.92 L246.57,330.56 L248.30,330.20 L250.03,329.86 L251.76,329.53 L253.49,329.22 L255.22,328.91 L256.95,328.62 L258.68,328.34 L260.42,328.07 L262.15,327.81 L263.88,327.56 L265.61,327.32 L267.34,327.09 L269.07,326.86 L270.80,326.64 L272.53,326.42 L274.26,326.20 L276.00,325.99 L277.73,325.78 L279.46,325.57 L281.19,325.36 L282.92,325.15 L284.65,324.94 L286.38,324.73 L288.11,324.51 L289.84,324.29 L291.58,324.06 L293.31,323.83 L295.04,323.58 L296.77,323.34 L298.50,323.08" fill="none" stroke="#000" stroke-width="1.4" stroke-linejoin="round" stroke-linecap="butt"/>
<text x="83.95" y="300.90" font-size="8.48" stroke="#000" stroke-width="0.22" textLength="4.45" lengthAdjust="spacingAndGlyphs">8</text>
<text x="83.95" y="320.10" font-size="8.48" stroke="#000" stroke-width="0.22" textLength="4.45" lengthAdjust="spacingAndGlyphs">7</text>
<text x="83.95" y="338.00" font-size="8.48" stroke="#000" stroke-width="0.22" textLength="4.45" lengthAdjust="spacingAndGlyphs">6</text>
<text x="83.95" y="354.90" font-size="8.48" stroke="#000" stroke-width="0.22" textLength="4.45" lengthAdjust="spacingAndGlyphs">5</text>
<text x="83.95" y="372.90" font-size="8.48" stroke="#000" stroke-width="0.22" textLength="4.45" lengthAdjust="spacingAndGlyphs">4</text>
<text x="83.95" y="392.00" font-size="8.48" stroke="#000" stroke-width="0.22" textLength="4.45" lengthAdjust="spacingAndGlyphs">3</text>
<text x="83.95" y="410.00" font-size="8.48" stroke="#000" stroke-width="0.22" textLength="4.45" lengthAdjust="spacingAndGlyphs">2</text>
<text x="83.95" y="427.00" font-size="8.48" stroke="#000" stroke-width="0.22" textLength="4.45" lengthAdjust="spacingAndGlyphs">1</text>
<text x="83.95" y="445.00" font-size="8.48" stroke="#000" stroke-width="0.22" textLength="4.45" lengthAdjust="spacingAndGlyphs">0</text>
<text x="91.03" y="453.10" font-size="8.48" stroke="#000" stroke-width="0.22" textLength="4.45" lengthAdjust="spacingAndGlyphs">0</text>
<text x="110.78" y="453.10" font-size="8.48" stroke="#000" stroke-width="0.22" textLength="4.45" lengthAdjust="spacingAndGlyphs">2</text>
<text x="131.38" y="453.10" font-size="8.48" stroke="#000" stroke-width="0.22" textLength="4.45" lengthAdjust="spacingAndGlyphs">4</text>
<text x="151.98" y="453.10" font-size="8.48" stroke="#000" stroke-width="0.22" textLength="4.45" lengthAdjust="spacingAndGlyphs">6</text>
<text x="172.58" y="453.10" font-size="8.48" stroke="#000" stroke-width="0.22" textLength="4.45" lengthAdjust="spacingAndGlyphs">8</text>
<text x="190.95" y="453.10" font-size="8.48" stroke="#000" stroke-width="0.22" textLength="8.90" lengthAdjust="spacingAndGlyphs">10</text>
<text x="211.55" y="453.10" font-size="8.48" stroke="#000" stroke-width="0.22" textLength="8.90" lengthAdjust="spacingAndGlyphs">12</text>
<text x="232.15" y="453.10" font-size="8.48" stroke="#000" stroke-width="0.22" textLength="8.90" lengthAdjust="spacingAndGlyphs">14</text>
<text x="252.75" y="453.10" font-size="8.48" stroke="#000" stroke-width="0.22" textLength="8.90" lengthAdjust="spacingAndGlyphs">16</text>
<text x="273.35" y="453.10" font-size="8.48" stroke="#000" stroke-width="0.22" textLength="8.90" lengthAdjust="spacingAndGlyphs">18</text>
<text x="293.05" y="453.10" font-size="8.48" stroke="#000" stroke-width="0.22" textLength="8.90" lengthAdjust="spacingAndGlyphs">20</text>
<text x="104.50" y="315.00" font-size="8.48" stroke="#000" stroke-width="0.22" textLength="40.80" lengthAdjust="spacingAndGlyphs">T<tspan font-size="6.44" dy="2.10">C</tspan><tspan dy="-2.10"> = 175</tspan><tspan font-size="7.21" stroke="none" dy="-0.68">°</tspan><tspan dy="0.68">C</tspan></text>
<text x="163.80" y="338.50" font-size="8.48" stroke="#000" stroke-width="0.22" textLength="39.70" lengthAdjust="spacingAndGlyphs">V<tspan font-size="6.44" dy="2.00">GS</tspan><tspan dy="-2.00"> = 20 V</tspan></text>
<text x="187.70" y="312.50" font-size="8.48" stroke="#000" stroke-width="0.22" textLength="16.46" lengthAdjust="spacingAndGlyphs">18 V</text>
<text x="221.30" y="312.50" font-size="8.48" stroke="#000" stroke-width="0.22" textLength="16.46" lengthAdjust="spacingAndGlyphs">16 V</text>
<text x="249.90" y="311.50" font-size="8.48" stroke="#000" stroke-width="0.22" textLength="16.46" lengthAdjust="spacingAndGlyphs">14 V</text>
<text x="268.30" y="375.30" font-size="8.48" stroke="#000" stroke-width="0.22" textLength="16.46" lengthAdjust="spacingAndGlyphs">10 V</text>
<line x1="197.80" y1="315.80" x2="217.20" y2="339.10" stroke="#000" stroke-width="0.95"/>
<polygon points="217.20,339.10 212.99,337.01 215.91,334.58" fill="#000"/>
<line x1="229.90" y1="316.40" x2="242.90" y2="333.90" stroke="#000" stroke-width="0.95"/>
<polygon points="242.90,333.90 238.81,331.58 241.86,329.32" fill="#000"/>
<line x1="258.40" y1="315.80" x2="274.00" y2="334.40" stroke="#000" stroke-width="0.95"/>
<polygon points="274.00,334.40 269.78,332.33 272.69,329.88" fill="#000"/>
<text x="121.60" y="466.40" font-size="8.48" stroke="#000" stroke-width="0.22" textLength="148.92" lengthAdjust="spacingAndGlyphs">V<tspan font-size="6.44" dy="2.00">DS</tspan><tspan dy="-2.00">, DRAIN–TO–SOURCE VOLTAGE (V)</tspan></text>
<text x="118.80" y="483.10" font-size="9.54" font-weight="bold" stroke="#000" stroke-width="0.15" textLength="155.55" lengthAdjust="spacingAndGlyphs">Figure 3. On–Region Characteristics</text>
<text transform="translate(70.80,367.10) rotate(-90)" x="-42.35" y="0" font-size="8.48" stroke="#000" stroke-width="0.22" textLength="84.70" lengthAdjust="spacingAndGlyphs">I<tspan font-size="6.44" dy="2.00">D</tspan><tspan dy="-2.00">, DRAIN CURRENT (A)</tspan></text>
<path d="M340 300h1v144h-1zM392 300h1v144h-1zM443 300h1v144h-1zM494 300h1v144h-1zM546 300h1v144h-1zM340 443h207v1h-207zM340 408h207v1h-207zM340 372h207v1h-207zM340 336h207v1h-207zM340 300h207v1h-207z" fill="#000"/>
<rect x="357.00" y="306.60" width="43.50" height="11.50" fill="#fff"/>
<rect x="488.90" y="330.90" width="24.50" height="8.80" fill="#fff"/>
<path d="M343.85,324.81 L343.88,324.72 L343.91,324.63 L343.94,324.54 L343.97,324.46 L344.00,324.37 L344.02,324.28 L344.05,324.19 L344.08,324.10 L344.11,324.01 L344.14,323.93 L344.17,323.84 L344.20,323.75 L344.23,323.66 L344.26,323.57 L344.29,323.48 L344.32,323.40 L344.35,323.31 L344.38,323.22 L344.41,323.13 L344.44,323.04 L344.47,322.96 L344.50,322.87 L344.53,322.78 L344.56,322.69 L344.60,322.60 L344.63,322.52 L344.66,322.43 L344.69,322.34 L344.72,322.25 L344.75,322.16 L344.78,322.08 L344.81,321.99 L344.84,321.90 L344.87,321.81 L344.90,321.72 L344.93,321.64 L344.96,321.55 L344.99,321.46 L345.02,321.37 L345.06,321.28 L345.09,321.20 L345.12,321.11 L345.15,321.02 L345.18,320.93 L345.21,320.84 L345.24,320.76 L345.27,320.67 L345.30,320.58 L345.34,320.49 L345.37,320.41 L345.40,320.32 L345.43,320.23 L345.46,320.14 L345.49,320.06 L345.52,319.97 L345.56,319.88 L345.59,319.79 L345.62,319.70 L345.65,319.62 L345.68,319.53 L345.71,319.44 L345.75,319.35 L345.78,319.27 L345.81,319.18 L345.84,319.09 L345.87,319.00 L345.90,318.92 L345.94,318.83 L345.97,318.74 L346.00,318.65 L346.03,318.57 L346.06,318.48 L346.10,318.39 L346.13,318.31 L346.16,318.22 L346.19,318.13 L346.23,318.04 L346.26,317.96 L346.29,317.87 L346.32,317.78 L346.36,317.69 L346.39,317.61 L346.42,317.52 L346.45,317.43 L346.49,317.34 L346.52,317.26 L346.55,317.17 L346.58,317.08 L346.62,317.00 L346.65,316.91 L346.68,316.82 L346.71,316.73 L346.75,316.65 L346.78,316.56 L346.81,316.47 L346.85,316.39 L346.88,316.30 L346.91,316.21 L346.94,316.13 L346.98,316.04 L347.01,315.95 L347.04,315.86 L347.08,315.78 L347.11,315.69 L347.14,315.60 L347.18,315.52 L347.21,315.43 L347.24,315.34 L347.28,315.26 L347.31,315.17 L347.34,315.08 L347.38,315.00 L347.41,314.91 L347.44,314.82 L347.48,314.74 L347.51,314.65 L347.54,314.56 L347.58,314.47 L347.61,314.39 L347.65,314.30 L347.68,314.21 L347.71,314.13 L347.75,314.04 L347.78,313.95 L347.82,313.87 L347.85,313.78 L347.88,313.69 L347.92,313.61 L347.95,313.52 L347.99,313.43 L348.02,313.35 L348.05,313.26 L348.09,313.17 L348.12,313.09 L348.16,313.00 L348.19,312.91 L348.23,312.83 L348.26,312.74 L348.29,312.66 L348.33,312.57 L348.36,312.48 L348.40,312.40 L348.43,312.31 L348.47,312.22 L348.50,312.14 L348.54,312.05 L348.57,311.96 L348.61,311.88 L348.64,311.79 L348.68,311.70 L348.71,311.62 L348.75,311.53 L348.78,311.45 L348.82,311.36 L348.85,311.27 L348.89,311.19 L348.92,311.10 L348.96,311.01 L348.99,310.93 L349.03,310.84 L349.06,310.76 L349.10,310.67 L349.13,310.58 L349.17,310.50 L349.21,310.41 L349.24,310.32 L349.28,310.24 L349.31,310.15 L349.35,310.07 L349.38,309.98 L349.42,309.89 L349.46,309.81 L349.49,309.72 L349.53,309.64 L349.56,309.55 L349.60,309.46 L349.64,309.38 L349.67,309.29 L349.71,309.21 L349.74,309.12 L349.78,309.04 L349.82,308.95 L349.85,308.86 L349.89,308.78 L349.93,308.69 L349.96,308.61 L350.00,308.52 L350.03,308.43 L350.07,308.35 L350.11,308.26 L350.14,308.18 L350.18,308.09 L350.22,308.01 L350.25,307.92 L350.29,307.84 L350.33,307.75 L350.37,307.66 L350.40,307.58 L350.44,307.49 L350.48,307.41 L350.51,307.32 L350.55,307.24 L350.59,307.15 L350.63,307.07 L350.66,306.98 L350.70,306.90 L350.74,306.81 L350.77,306.73 L350.81,306.64 L350.85,306.55 L350.89,306.47 L350.92,306.38 L350.96,306.30 L351.00,306.21 L351.04,306.13 L351.07,306.04 L351.11,305.96 L351.15,305.87 L351.19,305.79 L351.23,305.70 L351.26,305.62 L351.30,305.53 L351.34,305.45 L351.38,305.36 L351.42,305.28 L351.45,305.19 L351.49,305.11 L351.53,305.03 L351.57,304.94 L351.61,304.86 L351.65,304.77 L351.69,304.69 L351.72,304.60 L351.76,304.52 L351.80,304.43 L351.84,304.35 L351.88,304.26 L351.92,304.18 L351.96,304.09 L352.00,304.01 L352.04,303.93 L352.08,303.84 L352.11,303.76 L352.15,303.67 L352.19,303.59 L352.23,303.50 L352.27,303.42 L352.31,303.34 L352.35,303.25 L352.39,303.17 L352.43,303.08 L352.47,303.00 L352.51,302.91 L352.55,302.83 L352.59,302.75 L352.63,302.66 L352.67,302.58 L352.71,302.49 L352.75,302.41 L352.79,302.33 L352.83,302.24 L352.87,302.16 L352.91,302.07 L352.95,301.99 L353.00,301.91 L353.04,301.82 L353.08,301.74 L353.12,301.66 L353.16,301.57 L353.20,301.49 L353.24,301.40 L353.28,301.32 L353.32,301.24 L353.36,301.15 L353.40,301.07 L353.45,300.99 L353.49,300.90 L353.53,300.82 L353.57,300.74 L353.61,300.65 L353.65,300.57 L353.69,300.49 L353.73,300.40 L353.78,300.32 L353.82,300.24 L353.86,300.15 L353.90,300.07 L353.94,299.99 L353.98,299.90 L354.03,299.82 L354.07,299.74 L354.11,299.65 L354.15,299.57 L354.19,299.49 L354.24,299.40 L354.28,299.32 L354.32,299.24 L354.36,299.15 L354.41,299.07" fill="none" stroke="#000" stroke-width="1.75" stroke-linejoin="round"/>
<path d="M346.42,384.44 L347.74,384.07 L349.05,383.69 L350.36,383.30 L351.68,382.89 L352.99,382.47 L354.30,382.05 L355.62,381.61 L356.93,381.16 L358.24,380.71 L359.56,380.24 L360.87,379.77 L362.18,379.29 L363.50,378.80 L364.81,378.30 L366.12,377.79 L367.44,377.28 L368.75,376.76 L370.06,376.24 L371.38,375.71 L372.69,375.17 L374.01,374.63 L375.32,374.09 L376.63,373.54 L377.95,372.98 L379.26,372.43 L380.57,371.87 L381.89,371.31 L383.20,370.74 L384.51,370.18 L385.83,369.61 L387.14,369.04 L388.45,368.47 L389.77,367.90 L391.08,367.33 L392.39,366.76 L393.71,366.19 L395.02,365.63 L396.33,365.06 L397.65,364.49 L398.96,363.92 L400.27,363.35 L401.59,362.78 L402.90,362.21 L404.22,361.64 L405.53,361.07 L406.84,360.50 L408.16,359.92 L409.47,359.34 L410.78,358.76 L412.10,358.18 L413.41,357.59 L414.72,357.01 L416.04,356.42 L417.35,355.82 L418.66,355.22 L419.98,354.62 L421.29,354.02 L422.60,353.41 L423.92,352.79 L425.23,352.18 L426.54,351.55 L427.86,350.93 L429.17,350.29 L430.48,349.65 L431.80,349.01 L433.11,348.36 L434.42,347.70 L435.74,347.04 L437.05,346.37 L438.37,345.69 L439.68,345.01 L440.99,344.32 L442.31,343.62 L443.62,342.92 L444.93,342.21 L446.25,341.48 L447.56,340.76 L448.87,340.02 L450.19,339.27 L451.50,338.51 L452.81,337.75 L454.13,336.97 L455.44,336.18 L456.75,335.38 L458.07,334.58 L459.38,333.76 L460.69,332.92 L462.01,332.08 L463.32,331.22 L464.63,330.36 L465.95,329.47 L467.26,328.58 L468.57,327.67 L469.89,326.75 L471.20,325.81 L472.52,324.86 L473.83,323.90 L475.14,322.92 L476.46,321.92 L477.77,320.91 L479.08,319.88 L480.40,318.84 L481.71,317.77 L483.02,316.70 L484.34,315.60 L485.65,314.49 L486.96,313.36 L488.28,312.21 L489.59,311.04 L490.90,309.85 L492.22,308.65 L493.53,307.42 L494.84,306.18 L496.16,304.91 L497.47,303.63 L498.78,302.33 L500.10,301.01 L501.41,299.68 L502.73,298.34" fill="none" stroke="#000" stroke-width="1.75" stroke-linejoin="round" stroke-linecap="butt"/>
<path d="M347.19,397.03 L348.87,396.72 L350.54,396.40 L352.22,396.09 L353.89,395.78 L355.57,395.47 L357.24,395.15 L358.92,394.84 L360.59,394.52 L362.27,394.20 L363.94,393.88 L365.62,393.56 L367.29,393.24 L368.97,392.91 L370.64,392.59 L372.32,392.26 L373.99,391.93 L375.67,391.59 L377.34,391.26 L379.02,390.92 L380.69,390.58 L382.37,390.24 L384.04,389.89 L385.72,389.55 L387.39,389.19 L389.07,388.84 L390.74,388.48 L392.42,388.12 L394.09,387.76 L395.77,387.39 L397.44,387.02 L399.11,386.65 L400.79,386.27 L402.46,385.88 L404.14,385.50 L405.81,385.11 L407.49,384.71 L409.16,384.32 L410.84,383.91 L412.51,383.51 L414.19,383.09 L415.86,382.68 L417.54,382.26 L419.21,381.83 L420.89,381.40 L422.56,380.96 L424.24,380.52 L425.91,380.07 L427.59,379.62 L429.26,379.16 L430.94,378.70 L432.61,378.23 L434.29,377.76 L435.96,377.28 L437.64,376.79 L439.31,376.30 L440.99,375.80 L442.66,375.29 L444.34,374.78 L446.01,374.26 L447.68,373.74 L449.36,373.21 L451.03,372.66 L452.71,372.12 L454.38,371.56 L456.06,370.99 L457.73,370.41 L459.41,369.83 L461.08,369.23 L462.76,368.62 L464.43,368.00 L466.11,367.37 L467.78,366.73 L469.46,366.08 L471.13,365.41 L472.81,364.73 L474.48,364.03 L476.16,363.32 L477.83,362.60 L479.51,361.86 L481.18,361.11 L482.86,360.34 L484.53,359.56 L486.21,358.75 L487.88,357.94 L489.56,357.10 L491.23,356.25 L492.91,355.38 L494.58,354.48 L496.26,353.58 L497.93,352.65 L499.60,351.70 L501.28,350.73 L502.95,349.74 L504.63,348.73 L506.30,347.70 L507.98,346.65 L509.65,345.58 L511.33,344.48 L513.00,343.37 L514.68,342.23 L516.35,341.06 L518.03,339.88 L519.70,338.67 L521.38,337.44 L523.05,336.18 L524.73,334.90 L526.40,333.59 L528.08,332.26 L529.75,330.90 L531.43,329.52 L533.10,328.11 L534.78,326.68 L536.45,325.22 L538.13,323.73 L539.80,322.21 L541.48,320.67 L543.15,319.10 L544.83,317.50 L546.50,315.87" fill="none" stroke="#000" stroke-width="1.75" stroke-linejoin="round" stroke-linecap="butt"/>
<path d="M347.71,405.25 L349.38,405.09 L351.05,404.94 L352.72,404.78 L354.39,404.61 L356.06,404.44 L357.73,404.27 L359.40,404.09 L361.07,403.91 L362.74,403.73 L364.42,403.54 L366.09,403.34 L367.76,403.15 L369.43,402.94 L371.10,402.74 L372.77,402.53 L374.44,402.32 L376.11,402.10 L377.78,401.88 L379.45,401.66 L381.12,401.43 L382.79,401.20 L384.46,400.97 L386.13,400.73 L387.80,400.49 L389.47,400.24 L391.14,399.99 L392.81,399.74 L394.48,399.49 L396.15,399.23 L397.83,398.97 L399.50,398.70 L401.17,398.43 L402.84,398.16 L404.51,397.88 L406.18,397.61 L407.85,397.32 L409.52,397.04 L411.19,396.75 L412.86,396.46 L414.53,396.17 L416.20,395.87 L417.87,395.57 L419.54,395.26 L421.21,394.96 L422.88,394.65 L424.55,394.34 L426.22,394.02 L427.89,393.70 L429.56,393.38 L431.24,393.06 L432.91,392.73 L434.58,392.40 L436.25,392.07 L437.92,391.74 L439.59,391.40 L441.26,391.06 L442.93,390.72 L444.60,390.37 L446.27,390.03 L447.94,389.68 L449.61,389.32 L451.28,388.96 L452.95,388.60 L454.62,388.23 L456.29,387.86 L457.96,387.48 L459.63,387.10 L461.30,386.71 L462.97,386.31 L464.65,385.90 L466.32,385.49 L467.99,385.07 L469.66,384.64 L471.33,384.21 L473.00,383.76 L474.67,383.30 L476.34,382.84 L478.01,382.36 L479.68,381.88 L481.35,381.38 L483.02,380.87 L484.69,380.35 L486.36,379.82 L488.03,379.27 L489.70,378.71 L491.37,378.14 L493.04,377.55 L494.71,376.95 L496.38,376.34 L498.06,375.71 L499.73,375.06 L501.40,374.40 L503.07,373.72 L504.74,373.03 L506.41,372.32 L508.08,371.59 L509.75,370.84 L511.42,370.08 L513.09,369.29 L514.76,368.49 L516.43,367.67 L518.10,366.83 L519.77,365.97 L521.44,365.08 L523.11,364.18 L524.78,363.26 L526.45,362.31 L528.12,361.34 L529.79,360.35 L531.47,359.34 L533.14,358.30 L534.81,357.24 L536.48,356.16 L538.15,355.05 L539.82,353.92 L541.49,352.76 L543.16,351.57 L544.83,350.36 L546.50,349.12" fill="none" stroke="#000" stroke-width="1.75" stroke-linejoin="round" stroke-linecap="butt"/>
<path d="M348.23,410.61 L349.89,410.53 L351.56,410.45 L353.22,410.36 L354.89,410.26 L356.56,410.17 L358.22,410.06 L359.89,409.96 L361.55,409.85 L363.22,409.73 L364.89,409.61 L366.55,409.48 L368.22,409.36 L369.89,409.22 L371.55,409.09 L373.22,408.95 L374.88,408.80 L376.55,408.65 L378.22,408.50 L379.88,408.34 L381.55,408.18 L383.21,408.02 L384.88,407.85 L386.55,407.68 L388.21,407.50 L389.88,407.32 L391.55,407.14 L393.21,406.95 L394.88,406.76 L396.54,406.57 L398.21,406.38 L399.88,406.18 L401.54,405.97 L403.21,405.77 L404.88,405.56 L406.54,405.35 L408.21,405.13 L409.87,404.92 L411.54,404.70 L413.21,404.47 L414.87,404.25 L416.54,404.02 L418.20,403.79 L419.87,403.55 L421.54,403.32 L423.20,403.08 L424.87,402.84 L426.54,402.59 L428.20,402.35 L429.87,402.10 L431.53,401.85 L433.20,401.60 L434.87,401.34 L436.53,401.08 L438.20,400.83 L439.86,400.56 L441.53,400.30 L443.20,400.04 L444.86,399.77 L446.53,399.50 L448.20,399.23 L449.86,398.96 L451.53,398.68 L453.19,398.40 L454.86,398.11 L456.53,397.83 L458.19,397.53 L459.86,397.23 L461.52,396.93 L463.19,396.62 L464.86,396.31 L466.52,395.99 L468.19,395.66 L469.86,395.32 L471.52,394.98 L473.19,394.63 L474.85,394.27 L476.52,393.90 L478.19,393.53 L479.85,393.14 L481.52,392.75 L483.19,392.35 L484.85,391.93 L486.52,391.51 L488.18,391.07 L489.85,390.62 L491.52,390.17 L493.18,389.70 L494.85,389.21 L496.51,388.72 L498.18,388.21 L499.85,387.69 L501.51,387.15 L503.18,386.60 L504.85,386.04 L506.51,385.46 L508.18,384.87 L509.84,384.27 L511.51,383.64 L513.18,383.01 L514.84,382.36 L516.51,381.69 L518.17,381.00 L519.84,380.30 L521.51,379.58 L523.17,378.85 L524.84,378.10 L526.51,377.33 L528.17,376.54 L529.84,375.74 L531.50,374.91 L533.17,374.07 L534.84,373.21 L536.50,372.33 L538.17,371.43 L539.84,370.51 L541.50,369.57 L543.17,368.62 L544.83,367.64 L546.50,366.64" fill="none" stroke="#000" stroke-width="1.75" stroke-linejoin="round" stroke-linecap="butt"/>
<text x="326.48" y="443.50" font-size="8.48" stroke="#000" stroke-width="0.22" textLength="11.12" lengthAdjust="spacingAndGlyphs">0.5</text>
<text x="326.48" y="408.50" font-size="8.48" stroke="#000" stroke-width="0.22" textLength="11.12" lengthAdjust="spacingAndGlyphs">1.0</text>
<text x="326.48" y="372.50" font-size="8.48" stroke="#000" stroke-width="0.22" textLength="11.12" lengthAdjust="spacingAndGlyphs">1.5</text>
<text x="326.48" y="336.50" font-size="8.48" stroke="#000" stroke-width="0.22" textLength="11.12" lengthAdjust="spacingAndGlyphs">2.0</text>
<text x="326.48" y="300.50" font-size="8.48" stroke="#000" stroke-width="0.22" textLength="11.12" lengthAdjust="spacingAndGlyphs">2.5</text>
<text x="339.98" y="454.70" font-size="8.48" stroke="#000" stroke-width="0.22" textLength="4.45" lengthAdjust="spacingAndGlyphs">0</text>
<text x="390.94" y="454.70" font-size="8.48" stroke="#000" stroke-width="0.22" textLength="4.45" lengthAdjust="spacingAndGlyphs">2</text>
<text x="441.90" y="454.70" font-size="8.48" stroke="#000" stroke-width="0.22" textLength="4.45" lengthAdjust="spacingAndGlyphs">4</text>
<text x="492.86" y="454.70" font-size="8.48" stroke="#000" stroke-width="0.22" textLength="4.45" lengthAdjust="spacingAndGlyphs">6</text>
<text x="543.82" y="454.70" font-size="8.48" stroke="#000" stroke-width="0.22" textLength="4.45" lengthAdjust="spacingAndGlyphs">8</text>
<text x="358.70" y="315.00" font-size="8.48" stroke="#000" stroke-width="0.22" textLength="39.70" lengthAdjust="spacingAndGlyphs">V<tspan font-size="6.44" dy="2.00">GS</tspan><tspan dy="-2.00"> = 10 V</tspan></text>
<text x="454.10" y="319.70" font-size="8.48" stroke="#000" stroke-width="0.22" textLength="16.46" lengthAdjust="spacingAndGlyphs">14 V</text>
<text x="493.00" y="337.70" font-size="8.48" stroke="#000" stroke-width="0.22" textLength="16.46" lengthAdjust="spacingAndGlyphs">16 V</text>
<text x="515.00" y="356.60" font-size="8.48" stroke="#000" stroke-width="0.22" textLength="16.46" lengthAdjust="spacingAndGlyphs">18 V</text>
<text x="521.20" y="393.60" font-size="8.48" stroke="#000" stroke-width="0.22" textLength="16.46" lengthAdjust="spacingAndGlyphs">20 V</text>
<text x="398.20" y="466.50" font-size="8.48" stroke="#000" stroke-width="0.22" textLength="90.03" lengthAdjust="spacingAndGlyphs">I<tspan font-size="6.44" dy="2.00">D</tspan><tspan dy="-2.00">, DRAIN CURRENT (A)</tspan></text>
<text x="345.22" y="482.80" font-size="9.54" font-weight="bold" stroke="#000" stroke-width="0.15" textLength="196.57" lengthAdjust="spacingAndGlyphs">Figure 4. Normalized On–Resistance vs. Drain</text>
<text x="389.67" y="493.50" font-size="9.54" font-weight="bold" stroke="#000" stroke-width="0.15" textLength="107.85" lengthAdjust="spacingAndGlyphs">Current and Gate Voltage</text>
<text transform="translate(312.20,367.60) rotate(-90)" x="-62.35" y="0" font-size="8.48" stroke="#000" stroke-width="0.22" textLength="124.70" lengthAdjust="spacingAndGlyphs">R<tspan font-size="6.44" dy="2.00">DS</tspan><tspan font-size="4.75" dy="0.50">(on)</tspan><tspan dy="-2.50">, NORMALIZED DRAIN–TO–</tspan></text>
<text transform="translate(322.70,367.85) rotate(-90)" x="-49.25" y="0" font-size="8.48" stroke="#000" stroke-width="0.22" textLength="98.50" lengthAdjust="spacingAndGlyphs">SOURCE ON–RESISTANCE</text>
<path d="M92 509h1v145h-1zM113 509h1v145h-1zM133 509h1v145h-1zM154 509h1v145h-1zM174 509h1v145h-1zM195 509h1v145h-1zM215 509h1v145h-1zM235 509h1v145h-1zM256 509h1v145h-1zM276 509h1v145h-1zM297 509h1v145h-1zM92 653h206v1h-206zM92 642h206v1h-206zM92 631h206v1h-206zM92 620h206v1h-206zM92 609h206v1h-206zM92 598h206v1h-206zM92 587h206v1h-206zM92 576h206v1h-206zM92 564h206v1h-206zM92 553h206v1h-206zM92 542h206v1h-206zM92 531h206v1h-206zM92 520h206v1h-206zM92 509h206v1h-206z" fill="#000"/>
<rect x="97.60" y="514.70" width="46.80" height="20.40" fill="#fff"/>
<path d="M108.08,609.58 L109.67,610.10 L111.26,610.62 L112.86,611.15 L114.45,611.68 L116.04,612.22 L117.63,612.75 L119.22,613.28 L120.81,613.81 L122.41,614.34 L124.00,614.87 L125.59,615.39 L127.18,615.90 L128.77,616.41 L130.36,616.91 L131.96,617.40 L133.55,617.88 L135.14,618.35 L136.73,618.80 L138.32,619.24 L139.92,619.67 L141.51,620.08 L143.10,620.47 L144.69,620.84 L146.28,621.20 L147.87,621.53 L149.47,621.83 L151.06,622.10 L152.65,622.32 L154.24,622.50 L155.83,622.62 L157.42,622.68 L159.02,622.66 L160.61,622.58 L162.20,622.42 L163.79,622.21 L165.38,621.95 L166.98,621.63 L168.57,621.27 L170.16,620.88 L171.75,620.46 L173.34,620.02 L174.93,619.55 L176.53,619.08 L178.12,618.59 L179.71,618.08 L181.30,617.56 L182.89,617.01 L184.48,616.44 L186.08,615.85 L187.67,615.23 L189.26,614.58 L190.85,613.91 L192.44,613.20 L194.04,612.45 L195.63,611.67 L197.22,610.85 L198.81,610.00 L200.40,609.13 L201.99,608.22 L203.59,607.30 L205.18,606.35 L206.77,605.39 L208.36,604.42 L209.95,603.43 L211.54,602.44 L213.14,601.45 L214.73,600.47 L216.32,599.48 L217.91,598.50 L219.50,597.52 L221.10,596.53 L222.69,595.54 L224.28,594.54 L225.87,593.51 L227.46,592.47 L229.05,591.41 L230.65,590.32 L232.24,589.19 L233.83,588.03 L235.42,586.83 L237.01,585.58 L238.60,584.29 L240.20,582.96 L241.79,581.59 L243.38,580.17 L244.97,578.72 L246.56,577.23 L248.16,575.71 L249.75,574.15 L251.34,572.56 L252.93,570.94 L254.52,569.29 L256.11,567.61 L257.71,565.91 L259.30,564.18 L260.89,562.43 L262.48,560.66 L264.07,558.86 L265.66,557.06 L267.26,555.23 L268.85,553.39 L270.44,551.53 L272.03,549.67 L273.62,547.79 L275.22,545.91 L276.81,544.01 L278.40,542.12 L279.99,540.21 L281.58,538.31 L283.17,536.40 L284.77,534.50 L286.36,532.60 L287.95,530.70 L289.54,528.80 L291.13,526.92 L292.72,525.04 L294.32,523.17 L295.91,521.31 L297.50,519.47" fill="none" stroke="#000" stroke-width="1.65" stroke-linejoin="round" stroke-linecap="butt"/>
<text x="78.88" y="653.90" font-size="8.48" stroke="#000" stroke-width="0.22" textLength="11.12" lengthAdjust="spacingAndGlyphs">0.7</text>
<text x="78.88" y="642.90" font-size="8.48" stroke="#000" stroke-width="0.22" textLength="11.12" lengthAdjust="spacingAndGlyphs">0.8</text>
<text x="78.88" y="631.90" font-size="8.48" stroke="#000" stroke-width="0.22" textLength="11.12" lengthAdjust="spacingAndGlyphs">0.9</text>
<text x="78.88" y="620.90" font-size="8.48" stroke="#000" stroke-width="0.22" textLength="11.12" lengthAdjust="spacingAndGlyphs">1.0</text>
<text x="78.88" y="609.90" font-size="8.48" stroke="#000" stroke-width="0.22" textLength="11.12" lengthAdjust="spacingAndGlyphs">1.1</text>
<text x="78.88" y="598.90" font-size="8.48" stroke="#000" stroke-width="0.22" textLength="11.12" lengthAdjust="spacingAndGlyphs">1.2</text>
<text x="78.88" y="587.90" font-size="8.48" stroke="#000" stroke-width="0.22" textLength="11.12" lengthAdjust="spacingAndGlyphs">1.3</text>
<text x="78.88" y="576.90" font-size="8.48" stroke="#000" stroke-width="0.22" textLength="11.12" lengthAdjust="spacingAndGlyphs">1.4</text>
<text x="78.88" y="564.90" font-size="8.48" stroke="#000" stroke-width="0.22" textLength="11.12" lengthAdjust="spacingAndGlyphs">1.5</text>
<text x="78.88" y="553.90" font-size="8.48" stroke="#000" stroke-width="0.22" textLength="11.12" lengthAdjust="spacingAndGlyphs">1.6</text>
<text x="78.88" y="542.90" font-size="8.48" stroke="#000" stroke-width="0.22" textLength="11.12" lengthAdjust="spacingAndGlyphs">1.7</text>
<text x="78.88" y="531.90" font-size="8.48" stroke="#000" stroke-width="0.22" textLength="11.12" lengthAdjust="spacingAndGlyphs">1.8</text>
<text x="78.88" y="520.90" font-size="8.48" stroke="#000" stroke-width="0.22" textLength="11.12" lengthAdjust="spacingAndGlyphs">1.9</text>
<text x="78.88" y="509.90" font-size="8.48" stroke="#000" stroke-width="0.22" textLength="11.12" lengthAdjust="spacingAndGlyphs">2.0</text>
<text x="85.96" y="661.70" font-size="8.48" stroke="#000" stroke-width="0.22" textLength="13.57" lengthAdjust="spacingAndGlyphs">−75</text>
<text x="106.46" y="661.70" font-size="8.48" stroke="#000" stroke-width="0.22" textLength="13.57" lengthAdjust="spacingAndGlyphs">−50</text>
<text x="126.96" y="661.70" font-size="8.48" stroke="#000" stroke-width="0.22" textLength="13.57" lengthAdjust="spacingAndGlyphs">−25</text>
<text x="152.03" y="661.70" font-size="8.48" stroke="#000" stroke-width="0.22" textLength="4.45" lengthAdjust="spacingAndGlyphs">0</text>
<text x="170.30" y="661.70" font-size="8.48" stroke="#000" stroke-width="0.22" textLength="8.90" lengthAdjust="spacingAndGlyphs">25</text>
<text x="190.80" y="661.70" font-size="8.48" stroke="#000" stroke-width="0.22" textLength="8.90" lengthAdjust="spacingAndGlyphs">50</text>
<text x="211.30" y="661.70" font-size="8.48" stroke="#000" stroke-width="0.22" textLength="8.90" lengthAdjust="spacingAndGlyphs">75</text>
<text x="229.58" y="661.70" font-size="8.48" stroke="#000" stroke-width="0.22" textLength="13.35" lengthAdjust="spacingAndGlyphs">100</text>
<text x="250.08" y="661.70" font-size="8.48" stroke="#000" stroke-width="0.22" textLength="13.35" lengthAdjust="spacingAndGlyphs">125</text>
<text x="270.58" y="661.70" font-size="8.48" stroke="#000" stroke-width="0.22" textLength="13.35" lengthAdjust="spacingAndGlyphs">150</text>
<text x="291.08" y="661.70" font-size="8.48" stroke="#000" stroke-width="0.22" textLength="13.35" lengthAdjust="spacingAndGlyphs">175</text>
<text x="101.20" y="521.90" font-size="8.48" stroke="#000" stroke-width="0.22" textLength="27.30" lengthAdjust="spacingAndGlyphs">I<tspan font-size="6.44" dy="1.10">D</tspan><tspan dy="-1.10"> = 2 A</tspan></text>
<text x="101.20" y="530.80" font-size="8.48" stroke="#000" stroke-width="0.22" textLength="39.70" lengthAdjust="spacingAndGlyphs">V<tspan font-size="6.44" dy="2.00">GS</tspan><tspan dy="-2.00"> = 20 V</tspan></text>
<text x="120.60" y="677.00" font-size="8.48" stroke="#000" stroke-width="0.22" textLength="131.80" lengthAdjust="spacingAndGlyphs">T<tspan font-size="6.44" dy="1.90">J</tspan><tspan dy="-1.90">, JUNCTION TEMPERATURE (</tspan><tspan font-size="7.21" stroke="none" dy="-0.68">°</tspan><tspan dy="0.68">C)</tspan></text>
<text x="87.52" y="691.50" font-size="9.54" font-weight="bold" stroke="#000" stroke-width="0.15" textLength="196.57" lengthAdjust="spacingAndGlyphs">Figure 5. Normalized On–Resistance Variation</text>
<text x="148.83" y="702.90" font-size="9.54" font-weight="bold" stroke="#000" stroke-width="0.15" textLength="74.35" lengthAdjust="spacingAndGlyphs">with Temperature</text>
<text transform="translate(65.80,580.30) rotate(-90)" x="-65.50" y="0" font-size="8.48" stroke="#000" stroke-width="0.22" textLength="131.00" lengthAdjust="spacingAndGlyphs">R<tspan font-size="6.44" dy="2.00">DS</tspan><tspan font-size="4.75" dy="0.50">(on)</tspan><tspan dy="-2.50">, NORMALIZED DRAIN–TO–</tspan></text>
<text transform="translate(76.00,580.30) rotate(-90)" x="-51.70" y="0" font-size="8.48" stroke="#000" stroke-width="0.22" textLength="103.40" lengthAdjust="spacingAndGlyphs">SOURCE ON–RESISTANCE</text>
<path d="M341 509h1v145h-1zM358 509h1v145h-1zM375 509h1v145h-1zM392 509h1v145h-1zM410 509h1v145h-1zM427 509h1v145h-1zM444 509h1v145h-1zM461 509h1v145h-1zM478 509h1v145h-1zM495 509h1v145h-1zM512 509h1v145h-1zM530 509h1v145h-1zM546 509h1v145h-1zM341 653h206v1h-206zM341 596h206v1h-206z" fill="#000"/>
<rect x="341" y="509.12" width="206" height="0.76" fill="#000"/>
<rect x="341" y="537.6" width="206" height="0.8" fill="#000"/>
<rect x="341" y="566.45" width="206" height="0.8" fill="#000"/>
<rect x="341" y="624.1" width="206" height="0.8" fill="#000"/>
<rect x="503.50" y="514.70" width="32.00" height="10.50" fill="#fff"/>
<rect x="498.50" y="601.20" width="42.50" height="11.70" fill="#fff"/>
<rect x="501.50" y="631.40" width="38.50" height="9.70" fill="#fff"/>
<path d="M365.22,509.77 L365.52,511.17 L365.81,512.60 L366.09,514.04 L366.35,515.49 L366.61,516.95 L366.85,518.43 L367.09,519.92 L367.33,521.41 L367.56,522.92 L367.79,524.43 L368.01,525.95 L368.23,527.48 L368.46,529.01 L368.68,530.55 L368.91,532.09 L369.14,533.64 L369.38,535.18 L369.62,536.73 L369.88,538.28 L370.14,539.83 L370.41,541.38 L370.69,542.92 L370.98,544.46 L371.29,546.00 L371.61,547.53 L371.95,549.06 L372.31,550.58 L372.69,552.10 L373.08,553.60 L373.50,555.10 L373.94,556.58 L374.40,558.06 L374.88,559.52 L375.40,560.97 L375.94,562.41 L376.50,563.84 L377.10,565.25 L377.73,566.64 L378.39,568.01 L379.08,569.37 L379.81,570.71 L380.56,572.04 L381.35,573.34 L382.16,574.62 L383.00,575.89 L383.87,577.13 L384.77,578.35 L385.70,579.55 L386.65,580.73 L387.63,581.88 L388.63,583.01 L389.66,584.12 L390.71,585.20 L391.78,586.26 L392.88,587.29 L394.00,588.30 L395.14,589.28 L396.30,590.23 L397.49,591.16 L398.69,592.06 L399.91,592.93 L401.15,593.77 L402.41,594.59 L403.69,595.38 L404.98,596.15 L406.29,596.89 L407.62,597.61 L408.96,598.30 L410.32,598.97 L411.69,599.62 L413.07,600.25 L414.47,600.85 L415.88,601.44 L417.31,602.00 L418.74,602.54 L420.19,603.07 L421.65,603.57 L423.11,604.06 L424.59,604.53 L426.08,604.98 L427.57,605.41 L429.08,605.83 L430.59,606.23 L432.11,606.62 L433.63,606.99 L435.16,607.34 L436.70,607.69 L438.24,608.01 L439.78,608.33 L441.33,608.63 L442.88,608.93 L444.43,609.21 L445.99,609.48 L447.55,609.73 L449.11,609.98 L450.67,610.22 L452.23,610.45 L453.79,610.68 L455.35,610.89 L456.90,611.10 L458.46,611.30 L460.01,611.49 L461.56,611.68 L463.10,611.87 L464.65,612.04 L466.18,612.22 L467.72,612.39 L469.25,612.55 L470.78,612.71 L472.31,612.86 L473.83,613.01 L475.35,613.16 L476.87,613.30 L478.39,613.44 L479.90,613.57 L481.42,613.70 L482.93,613.83 L484.44,613.95 L485.95,614.07 L487.45,614.18 L488.96,614.30 L490.47,614.41 L491.97,614.51 L493.48,614.62 L494.98,614.72 L496.49,614.82 L497.99,614.91 L499.50,615.01 L501.00,615.10 L502.51,615.19 L504.01,615.27 L505.52,615.36 L507.03,615.44 L508.54,615.53 L510.05,615.61 L511.56,615.69 L513.08,615.77 L514.59,615.84 L516.11,615.92 L517.63,616.00 L519.15,616.07 L520.68,616.15 L522.21,616.22 L523.74,616.29 L525.27,616.37 L526.81,616.44 L528.35,616.51 L529.89,616.59 L531.44,616.66 L532.99,616.74 L534.54,616.81 L536.10,616.89 L537.66,616.96 L539.23,617.04 L540.81,617.12 L542.38,617.20 L543.96,617.28 L545.55,617.36 L547.14,617.44" fill="none" stroke="#000" stroke-width="1.75" stroke-linejoin="round"/>
<path d="M399.69,508.76 L400.10,510.06 L400.50,511.37 L400.88,512.68 L401.24,513.99 L401.59,515.30 L401.92,516.62 L402.25,517.94 L402.55,519.26 L402.85,520.58 L403.14,521.91 L403.42,523.24 L403.68,524.57 L403.95,525.90 L404.20,527.23 L404.45,528.57 L404.70,529.90 L404.94,531.24 L405.18,532.58 L405.41,533.92 L405.65,535.26 L405.89,536.60 L406.12,537.95 L406.36,539.29 L406.61,540.63 L406.85,541.98 L407.10,543.32 L407.36,544.67 L407.62,546.02 L407.90,547.36 L408.18,548.71 L408.47,550.05 L408.77,551.40 L409.08,552.75 L409.40,554.09 L409.74,555.43 L410.09,556.78 L410.46,558.12 L410.84,559.45 L411.23,560.79 L411.64,562.12 L412.06,563.44 L412.50,564.76 L412.95,566.08 L413.42,567.38 L413.91,568.68 L414.41,569.98 L414.93,571.26 L415.47,572.53 L416.02,573.80 L416.59,575.05 L417.19,576.30 L417.80,577.53 L418.43,578.75 L419.08,579.95 L419.74,581.15 L420.43,582.33 L421.14,583.49 L421.87,584.64 L422.63,585.78 L423.40,586.89 L424.19,587.99 L425.01,589.08 L425.84,590.15 L426.69,591.20 L427.57,592.24 L428.46,593.26 L429.37,594.26 L430.29,595.25 L431.24,596.22 L432.20,597.18 L433.17,598.12 L434.17,599.04 L435.18,599.94 L436.20,600.83 L437.24,601.70 L438.30,602.56 L439.37,603.40 L440.45,604.22 L441.55,605.02 L442.66,605.81 L443.78,606.58 L444.91,607.33 L446.06,608.07 L447.22,608.79 L448.39,609.49 L449.57,610.17 L450.76,610.84 L451.96,611.49 L453.17,612.12 L454.39,612.74 L455.61,613.34 L456.85,613.92 L458.09,614.48 L459.35,615.02 L460.61,615.55 L461.87,616.06 L463.14,616.55 L464.42,617.03 L465.71,617.48 L467.00,617.93 L468.30,618.35 L469.60,618.76 L470.91,619.16 L472.22,619.54 L473.54,619.91 L474.86,620.26 L476.19,620.60 L477.52,620.93 L478.86,621.24 L480.20,621.54 L481.54,621.83 L482.89,622.11 L484.24,622.38 L485.60,622.64 L486.95,622.89 L488.31,623.13 L489.68,623.35 L491.04,623.57 L492.41,623.79 L493.78,623.99 L495.16,624.19 L496.53,624.38 L497.91,624.56 L499.28,624.74 L500.66,624.91 L502.04,625.07 L503.42,625.23 L504.80,625.39 L506.18,625.54 L507.56,625.68 L508.94,625.83 L510.32,625.97 L511.71,626.11 L513.09,626.24 L514.46,626.38 L515.84,626.51 L517.22,626.64 L518.60,626.77 L519.97,626.91 L521.34,627.04 L522.71,627.17 L524.08,627.30 L525.45,627.44 L526.81,627.58 L528.17,627.72 L529.53,627.86 L530.89,628.00 L532.24,628.15 L533.59,628.31 L534.93,628.47 L536.27,628.63 L537.61,628.80 L538.94,628.97 L540.27,629.15 L541.59,629.34 L542.91,629.53 L544.23,629.73 L545.53,629.94 L546.84,630.16" fill="none" stroke="#000" stroke-width="1.75" stroke-linejoin="round"/>
<text x="333.85" y="511.70" font-size="8.48" stroke="#000" stroke-width="0.22" textLength="4.45" lengthAdjust="spacingAndGlyphs">5</text>
<text x="333.85" y="538.90" font-size="8.48" stroke="#000" stroke-width="0.22" textLength="4.45" lengthAdjust="spacingAndGlyphs">4</text>
<text x="333.85" y="567.90" font-size="8.48" stroke="#000" stroke-width="0.22" textLength="4.45" lengthAdjust="spacingAndGlyphs">3</text>
<text x="333.85" y="597.90" font-size="8.48" stroke="#000" stroke-width="0.22" textLength="4.45" lengthAdjust="spacingAndGlyphs">2</text>
<text x="333.85" y="625.90" font-size="8.48" stroke="#000" stroke-width="0.22" textLength="4.45" lengthAdjust="spacingAndGlyphs">1</text>
<text x="333.85" y="652.80" font-size="8.48" stroke="#000" stroke-width="0.22" textLength="4.45" lengthAdjust="spacingAndGlyphs">0</text>
<text x="339.63" y="661.70" font-size="8.48" stroke="#000" stroke-width="0.22" textLength="4.45" lengthAdjust="spacingAndGlyphs">8</text>
<text x="356.71" y="661.70" font-size="8.48" stroke="#000" stroke-width="0.22" textLength="4.45" lengthAdjust="spacingAndGlyphs">9</text>
<text x="371.57" y="661.70" font-size="8.48" stroke="#000" stroke-width="0.22" textLength="8.90" lengthAdjust="spacingAndGlyphs">10</text>
<text x="388.95" y="661.70" font-size="8.48" stroke="#000" stroke-width="0.22" textLength="8.30" lengthAdjust="spacingAndGlyphs">11</text>
<text x="405.73" y="661.70" font-size="8.48" stroke="#000" stroke-width="0.22" textLength="8.90" lengthAdjust="spacingAndGlyphs">12</text>
<text x="422.82" y="661.70" font-size="8.48" stroke="#000" stroke-width="0.22" textLength="8.90" lengthAdjust="spacingAndGlyphs">13</text>
<text x="439.90" y="661.70" font-size="8.48" stroke="#000" stroke-width="0.22" textLength="8.90" lengthAdjust="spacingAndGlyphs">14</text>
<text x="456.98" y="661.70" font-size="8.48" stroke="#000" stroke-width="0.22" textLength="8.90" lengthAdjust="spacingAndGlyphs">15</text>
<text x="474.07" y="661.70" font-size="8.48" stroke="#000" stroke-width="0.22" textLength="8.90" lengthAdjust="spacingAndGlyphs">16</text>
<text x="491.15" y="661.70" font-size="8.48" stroke="#000" stroke-width="0.22" textLength="8.90" lengthAdjust="spacingAndGlyphs">17</text>
<text x="508.23" y="661.70" font-size="8.48" stroke="#000" stroke-width="0.22" textLength="8.90" lengthAdjust="spacingAndGlyphs">18</text>
<text x="525.32" y="661.70" font-size="8.48" stroke="#000" stroke-width="0.22" textLength="8.90" lengthAdjust="spacingAndGlyphs">19</text>
<text x="541.90" y="661.70" font-size="8.48" stroke="#000" stroke-width="0.22" textLength="8.90" lengthAdjust="spacingAndGlyphs">20</text>
<text x="505.70" y="521.90" font-size="8.48" stroke="#000" stroke-width="0.22" textLength="27.30" lengthAdjust="spacingAndGlyphs">I<tspan font-size="6.44" dy="1.10">D</tspan><tspan dy="-1.10"> = 2 A</tspan></text>
<text x="500.20" y="609.00" font-size="8.48" stroke="#000" stroke-width="0.22" textLength="39.30" lengthAdjust="spacingAndGlyphs">T<tspan font-size="6.44" dy="1.90">J</tspan><tspan dy="-1.90"> = 150</tspan><tspan font-size="7.21" stroke="none" dy="-0.68">°</tspan><tspan dy="0.68">C</tspan></text>
<text x="503.10" y="638.70" font-size="8.48" stroke="#000" stroke-width="0.22" textLength="35.00" lengthAdjust="spacingAndGlyphs">T<tspan font-size="6.44" dy="1.90">J</tspan><tspan dy="-1.90"> = 25</tspan><tspan font-size="7.21" stroke="none" dy="-0.68">°</tspan><tspan dy="0.68">C</tspan></text>
<text x="370.40" y="677.00" font-size="8.48" stroke="#000" stroke-width="0.22" textLength="145.56" lengthAdjust="spacingAndGlyphs">V<tspan font-size="6.44" dy="2.00">GS</tspan><tspan dy="-2.00">, GATE–TO–SOURCE VOLTAGE (V)</tspan></text>
<text x="347.61" y="691.50" font-size="9.54" font-weight="bold" stroke="#000" stroke-width="0.15" textLength="191.58" lengthAdjust="spacingAndGlyphs">Figure 6. On–Resistance vs. Gate–to–Source</text>
<text x="427.88" y="702.90" font-size="9.54" font-weight="bold" stroke="#000" stroke-width="0.15" textLength="31.84" lengthAdjust="spacingAndGlyphs">Voltage</text>
<text transform="translate(315.80,640.90) rotate(-90)" x="0.00" y="0" font-size="8.48" stroke="#000" stroke-width="0.22" textLength="99.40" lengthAdjust="spacingAndGlyphs">R<tspan font-size="6.44" dy="2.00">DS</tspan><tspan font-size="4.75" dy="0.50">(on)</tspan><tspan dy="-2.50">, ON–RESISTANCE</tspan></text>
<text transform="translate(315.80,539.10) rotate(-90)" x="0.00" y="0" font-size="7.00" stroke="#000" stroke-width="0.22" textLength="15.40" lengthAdjust="spacingAndGlyphs">(mΩ)</text>
</svg>
</body>
</html>
